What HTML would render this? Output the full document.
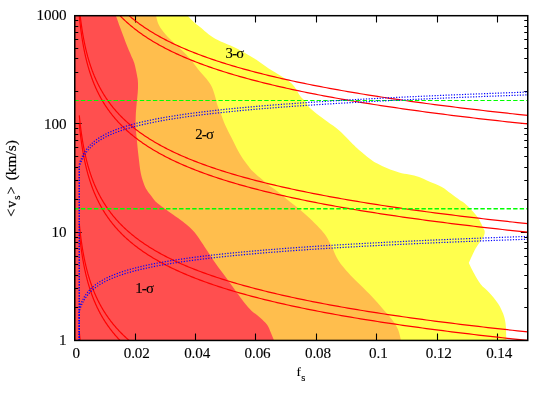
<!DOCTYPE html>
<html><head><meta charset="utf-8"><title>plot</title>
<style>
html,body{margin:0;padding:0;background:#fff;}
svg{display:block;}
.t{opacity:0.999;}
text{font-family:"Liberation Serif",serif;font-size:14px;fill:#000;letter-spacing:-0.1px;stroke:#000;stroke-width:0.12px;}
</style></head><body>
<svg width="550" height="393" viewBox="0 0 550 393">
<rect width="550" height="393" fill="#fff"/>
<defs><clipPath id="c"><rect x="74.75" y="15.7" width="453.0" height="324.75"/></clipPath></defs>
<g clip-path="url(#c)">
<path d="M74.75 15.70 L187.60 15.70 C188.78 16.87 192.47 20.68 194.70 22.70 C196.93 24.72 198.70 25.88 201.00 27.80 C203.30 29.72 205.70 32.17 208.50 34.20 C211.30 36.23 214.13 38.10 217.80 40.00 C221.47 41.90 226.25 43.60 230.50 45.60 C234.75 47.60 239.05 49.67 243.30 52.00 C247.55 54.33 251.77 56.85 256.00 59.60 C260.23 62.35 264.47 65.73 268.70 68.50 C272.93 71.27 278.02 74.08 281.40 76.20 C284.78 78.32 286.88 79.52 289.00 81.20 C291.12 82.88 292.18 83.75 294.10 86.30 C296.02 88.85 298.58 93.97 300.50 96.50 C302.42 99.03 304.12 99.65 305.60 101.50 C307.08 103.35 307.50 105.52 309.40 107.60 C311.30 109.68 314.03 111.67 317.00 114.00 C319.97 116.33 323.40 118.77 327.20 121.60 C331.00 124.43 335.52 127.23 339.80 131.00 C344.08 134.77 349.53 140.92 352.90 144.20 C356.27 147.48 357.30 148.37 360.00 150.70 C362.70 153.03 366.22 156.05 369.10 158.20 C371.98 160.35 374.27 161.93 377.30 163.60 C380.33 165.27 383.67 166.73 387.30 168.20 C390.93 169.67 395.47 171.35 399.10 172.40 C402.73 173.45 405.77 173.75 409.10 174.50 C412.43 175.25 415.77 175.73 419.10 176.90 C422.43 178.07 425.32 179.83 429.10 181.50 C432.88 183.17 438.17 184.88 441.80 186.90 C445.43 188.92 447.93 191.42 450.90 193.60 C453.87 195.78 457.32 198.40 459.60 200.00 C461.88 201.60 462.62 201.53 464.60 203.20 C466.58 204.87 469.23 207.53 471.50 210.00 C473.77 212.47 476.02 214.55 478.20 218.00 C480.38 221.45 484.60 230.70 484.60 230.70 C484.60 230.70 485.10 233.53 483.60 236.50 C482.10 239.47 478.07 244.08 475.60 248.50 C473.13 252.92 468.80 263.00 468.80 263.00 C468.80 263.00 472.42 270.47 474.40 274.00 C476.38 277.53 478.25 281.12 480.70 284.20 C483.15 287.28 486.22 289.30 489.10 292.50 C491.98 295.70 495.67 299.88 498.00 303.40 C500.33 306.92 501.83 310.20 503.10 313.60 C504.37 317.00 505.05 319.33 505.60 323.80 C506.15 328.27 506.27 337.68 506.40 340.45 L74.75 340.45 Z" fill="#ffff4d"/>
<path d="M74.75 15.70 L156.00 15.70 C156.50 17.30 157.43 22.22 159.00 25.30 C160.57 28.38 162.42 30.82 165.40 34.20 C168.38 37.58 172.87 41.58 176.90 45.60 C180.93 49.62 186.00 54.28 189.60 58.30 C193.20 62.32 195.70 66.30 198.50 69.70 C201.30 73.10 204.23 75.93 206.40 78.70 C208.57 81.47 210.07 83.42 211.50 86.30 C212.93 89.18 214.05 92.97 215.00 96.00 C215.95 99.03 216.30 101.72 217.20 104.50 C218.10 107.28 219.03 109.22 220.40 112.70 C221.77 116.18 223.50 121.15 225.40 125.40 C227.30 129.65 229.67 133.95 231.80 138.20 C233.93 142.45 236.08 147.10 238.20 150.90 C240.32 154.70 242.27 157.78 244.50 161.00 C246.73 164.22 251.60 170.20 251.60 170.20 C251.60 170.20 256.95 175.10 259.80 177.60 C262.65 180.10 265.73 182.88 268.70 185.20 C271.67 187.52 274.42 189.03 277.60 191.50 C280.78 193.97 284.20 197.07 287.80 200.00 C291.40 202.93 295.60 206.10 299.20 209.10 C302.80 212.10 306.00 214.82 309.40 218.00 C312.80 221.18 316.80 225.15 319.60 228.20 C322.40 231.25 324.03 232.92 326.20 236.30 C328.37 239.68 330.85 244.95 332.60 248.50 C334.35 252.05 335.17 254.80 336.70 257.60 C338.23 260.40 339.47 262.33 341.80 265.30 C344.13 268.27 347.52 272.02 350.70 275.40 C353.88 278.78 357.30 281.98 360.90 285.60 C364.50 289.22 368.70 293.28 372.30 297.10 C375.90 300.92 379.32 304.90 382.50 308.50 C385.68 312.10 388.85 315.30 391.40 318.70 C393.95 322.10 396.18 325.27 397.80 328.90 C399.42 332.52 400.55 338.52 401.10 340.45 L74.75 340.45 Z" fill="#ffbe4d"/>
<path d="M74.75 15.70 L115.90 15.70 C116.65 17.78 118.50 23.08 120.40 28.20 C122.30 33.32 125.25 41.25 127.30 46.40 C129.35 51.55 131.45 56.00 132.70 59.10 C133.95 62.20 133.98 61.77 134.80 65.00 C135.62 68.23 137.07 74.67 137.60 78.50 C138.13 82.33 138.05 84.87 138.00 88.00 C137.95 91.13 137.57 94.23 137.30 97.30 C137.03 100.37 136.65 103.45 136.40 106.40 C136.15 109.35 135.92 111.83 135.80 115.00 C135.68 118.17 135.55 121.53 135.70 125.40 C135.85 129.27 136.23 133.10 136.70 138.20 C137.17 143.30 137.80 150.07 138.50 156.00 C139.20 161.93 139.90 168.88 140.90 173.80 C141.90 178.72 143.40 182.63 144.50 185.50 C145.60 188.37 146.43 189.33 147.50 191.00 C148.57 192.67 149.57 193.77 150.90 195.50 C152.23 197.23 153.38 199.37 155.50 201.40 C157.62 203.43 160.58 205.43 163.60 207.70 C166.62 209.97 170.42 212.72 173.60 215.00 C176.78 217.28 180.12 219.43 182.70 221.40 C185.28 223.37 187.13 224.98 189.10 226.80 C191.07 228.62 192.83 230.33 194.50 232.30 C196.17 234.27 197.43 236.18 199.10 238.60 C200.77 241.02 202.68 244.07 204.50 246.80 C206.32 249.53 208.05 252.10 210.00 255.00 C211.95 257.90 213.28 260.12 216.20 264.20 C219.12 268.28 223.82 274.43 227.50 279.50 C231.18 284.57 235.42 290.63 238.30 294.60 C241.18 298.57 242.57 300.58 244.80 303.30 C247.03 306.02 249.18 308.55 251.70 310.90 C254.22 313.25 257.30 315.07 259.90 317.40 C262.50 319.73 265.48 322.38 267.30 324.90 C269.12 327.42 269.68 329.91 270.80 332.50 C271.92 335.09 273.47 339.12 274.00 340.45 L74.75 340.45 Z" fill="#ff4f4f"/>
</g>
<g fill="none" stroke="#000" stroke-width="1.1"><path d="M135.50 340.45 v-6.9 M135.50 15.70 v6.9"/><path d="M195.50 340.45 v-6.9 M195.50 15.70 v6.9"/><path d="M255.50 340.45 v-6.9 M255.50 15.70 v6.9"/><path d="M316.50 340.45 v-6.9 M316.50 15.70 v6.9"/><path d="M376.50 340.45 v-6.9 M376.50 15.70 v6.9"/><path d="M437.50 340.45 v-6.9 M437.50 15.70 v6.9"/><path d="M497.50 340.45 v-6.9 M497.50 15.70 v6.9"/><path d="M74.75 307.50 h3.50 M527.75 307.50 h-3.50"/><path d="M74.75 288.50 h3.50 M527.75 288.50 h-3.50"/><path d="M74.75 275.50 h3.50 M527.75 275.50 h-3.50"/><path d="M74.75 264.50 h3.50 M527.75 264.50 h-3.50"/><path d="M74.75 256.50 h3.50 M527.75 256.50 h-3.50"/><path d="M74.75 248.50 h3.50 M527.75 248.50 h-3.50"/><path d="M74.75 242.50 h3.50 M527.75 242.50 h-3.50"/><path d="M74.75 237.50 h3.50 M527.75 237.50 h-3.50"/><path d="M74.75 232.50 h6.90 M527.75 232.50 h-6.90"/><path d="M74.75 199.50 h3.50 M527.75 199.50 h-3.50"/><path d="M74.75 180.50 h3.50 M527.75 180.50 h-3.50"/><path d="M74.75 167.50 h3.50 M527.75 167.50 h-3.50"/><path d="M74.75 156.50 h3.50 M527.75 156.50 h-3.50"/><path d="M74.75 147.50 h3.50 M527.75 147.50 h-3.50"/><path d="M74.75 140.50 h3.50 M527.75 140.50 h-3.50"/><path d="M74.75 134.50 h3.50 M527.75 134.50 h-3.50"/><path d="M74.75 128.50 h3.50 M527.75 128.50 h-3.50"/><path d="M74.75 123.50 h6.90 M527.75 123.50 h-6.90"/><path d="M74.75 91.50 h3.50 M527.75 91.50 h-3.50"/><path d="M74.75 72.50 h3.50 M527.75 72.50 h-3.50"/><path d="M74.75 58.50 h3.50 M527.75 58.50 h-3.50"/><path d="M74.75 48.50 h3.50 M527.75 48.50 h-3.50"/><path d="M74.75 39.50 h3.50 M527.75 39.50 h-3.50"/><path d="M74.75 32.50 h3.50 M527.75 32.50 h-3.50"/><path d="M74.75 26.50 h3.50 M527.75 26.50 h-3.50"/><path d="M74.75 20.50 h3.50 M527.75 20.50 h-3.50"/></g>
<g clip-path="url(#c)">
<g fill="none" stroke="#ff0000" stroke-width="1.2"><path d="M79.28 340.45 L79.33 340.99 L79.39 341.53 L79.44 342.07 L79.49 342.62 L79.55 343.16 L79.60 343.70 L79.66 344.24 L79.72 344.78 L79.77 345.32 L79.83 345.86 L79.89 346.40 L79.95 346.94 L80.01 347.49 L80.07 348.03 L80.13 348.57 L80.20 349.11 L80.26 349.65 L80.32 350.19 L80.39 350.73 L80.45 351.27 L80.52 351.82 L80.59 352.36 L80.65 352.90 L80.72 353.44 L80.79 353.98 L80.86 354.52 L80.93 355.06 L81.00 355.60 L81.08 356.15 L81.15 356.69 L81.22 357.23 L81.30 357.77 L81.37 358.31 L81.45 358.85 L81.53 359.39 L81.61 359.94 L81.69 360.48 L81.77 361.02 L81.85 361.56 L81.93 362.10 L82.01 362.64 L82.10 363.18 L82.18 363.72 L82.27 364.26 L82.35 364.81 L82.44 365.35 L82.53 365.89 L82.62 366.43 L82.71 366.97 L82.81 367.51 L82.90 368.05 L82.99 368.59 L83.09 369.14 L83.19 369.68 L83.28 370.22 L83.38 370.76 L83.48 371.30 L83.58 371.84 L83.69 372.38 L83.79 372.93 L83.89 373.47 L84.00 374.01 L84.11 374.55 L84.21 375.09 L84.32 375.63 L84.43 376.17 L84.55 376.71 L84.66 377.25 L84.78 377.80 L84.89 378.34 L85.01 378.88 L85.13 379.42 L85.25 379.96 L85.37 380.50 L85.49 381.04 L85.62 381.58 L85.74 382.13 L85.87 382.67 L86.00 383.21 L86.13 383.75 L86.26 384.29 L86.39 384.83 L86.53 385.37 L86.67 385.91 L86.80 386.46 L86.94 387.00 L87.08 387.54 L87.23 388.08 L87.37 388.62 L87.52 389.16 L87.67 389.70 L87.81 390.25 L87.97 390.79 L88.12 391.33 L88.27 391.87 L88.43 392.41 L88.59 392.95 L88.75 393.49 L88.91 394.03 L89.08 394.57 L89.24 395.12 L89.41 395.66 L89.58 396.20 L89.75 396.74 L89.92 397.28 L90.10 397.82 L90.28 398.36 L90.46 398.90 L90.64 399.45 L90.82 399.99 L91.01 400.53 L91.20 401.07 L91.39 401.61 L91.58 402.15 L91.78 402.69 L91.97 403.23 L92.17 403.78 L92.37 404.32 L92.58 404.86 L92.78 405.40 L92.99 405.94 L93.20 406.48 L93.42 407.02 L93.63 407.56 L93.85 408.11 L94.07 408.65 L94.30 409.19 L94.52 409.73 L94.75 410.27 L94.98 410.81 L95.22 411.35 L95.46 411.89 L95.70 412.44 L95.94 412.98 L96.18 413.52 L96.43 414.06 L96.68 414.60 L96.94 415.14 L97.19 415.68 L97.45 416.22 L97.72 416.77 L97.98 417.31 L98.25 417.85 L98.52 418.39 L98.80 418.93 L99.08 419.47 L99.36 420.01 L99.64 420.56 L99.93 421.10 L100.22 421.64 L100.52 422.18 L100.82 422.72 L101.12 423.26 L101.42 423.80 L101.73 424.34 L102.05 424.88 L102.36 425.43 L102.68 425.97 L103.01 426.51 L103.33 427.05 L103.66 427.59 L104.00 428.13 L104.34 428.67 L104.68 429.21 L105.03 429.76 L105.38 430.30 L105.73 430.84 L106.09 431.38 L106.45 431.92 L106.82 432.46 L107.19 433.00 L107.57 433.55 L107.95 434.09 L108.33 434.63 L108.72 435.17 L109.11 435.71 L109.51 436.25 L109.91 436.79 L110.32 437.33 L110.73 437.88 L111.15 438.42 L111.57 438.96 L112.00 439.50 L112.43 440.04 L112.87 440.58 L113.31 441.12 L113.75 441.66 L114.20 442.20 L114.66 442.75 L115.12 443.29 L115.59 443.83 L116.06 444.37 L116.54 444.91 L117.03 445.45 L117.52 445.99 L118.01 446.53 L118.51 447.08 L119.02 447.62 L119.53 448.16 L120.05 448.70 L120.57 449.24 L121.11 449.78 L121.64 450.32 L122.18 450.87 L122.73 451.41 L123.29 451.95 L123.85 452.49 L124.42 453.03 L125.00 453.57 L125.58 454.11 L126.17 454.65 L126.76 455.19 L127.36 455.74 L127.97 456.28 L128.59 456.82 L129.21 457.36 L129.84 457.90 L130.48 458.44 L131.13 458.98 L131.78 459.52 L132.44 460.07 L133.11 460.61 L133.78 461.15 L134.47 461.69 L135.16 462.23 L135.86 462.77 L136.57 463.31 L137.28 463.85 L138.01 464.40 L138.74 464.94 L139.48 465.48 L140.23 466.02 L140.99 466.56 L141.75 467.10 L142.53 467.64 L143.31 468.19 L144.11 468.73 L144.91 469.27 L145.72 469.81 L146.55 470.35 L147.38 470.89 L148.22 471.43 L149.07 471.97 L149.93 472.51 L150.80 473.06 L151.68 473.60 L152.57 474.14 L153.47 474.68 L154.38 475.22 L155.31 475.76 L156.24 476.30 L157.18 476.85 L158.14 477.39 L159.10 477.93 L160.08 478.47 L161.07 479.01 L162.07 479.55 L163.08 480.09 L164.10 480.63 L165.14 481.17 L166.18 481.72 L167.24 482.26 L168.31 482.80 L169.40 483.34 L170.49 483.88 L171.60 484.42 L172.72 484.96 L173.86 485.50 L175.00 486.05 L176.16 486.59 L177.34 487.13 L178.53 487.67 L179.73 488.21 L180.94 488.75 L182.17 489.29 L183.42 489.83 L184.68 490.38 L185.95 490.92 L187.24 491.46 L188.54 492.00 L189.86 492.54 L191.19 493.08 L192.54 493.62 L193.90 494.16 L195.28 494.71 L196.68 495.25 L198.09 495.79 L199.52 496.33 L200.96 496.87 L202.42 497.41 L203.90 497.95 L205.40 498.50 L206.91 499.04 L208.44 499.58 L209.99 500.12 L211.55 500.66 L213.14 501.20 L214.74 501.74 L216.36 502.28 L218.00 502.82 L219.66 503.37 L221.34 503.91 L223.04 504.45 L224.75 504.99 L226.49 505.53 L228.25 506.07 L230.02 506.61 L231.82 507.15 L233.64 507.70 L235.48 508.24 L237.34 508.78 L239.22 509.32 L241.13 509.86 L243.06 510.40 L245.00 510.94 L246.98 511.49 L248.97 512.03 L250.99 512.57 L253.03 513.11 L255.09 513.65 L257.18 514.19 L259.29 514.73 L261.43 515.27 L263.59 515.82 L265.78 516.36 L267.99 516.90 L270.23 517.44 L272.49 517.98 L274.78 518.52 L277.10 519.06 L279.44 519.60 L281.81 520.14 L284.21 520.69 L286.63 521.23 L289.09 521.77 L291.57 522.31 L294.08 522.85 L296.62 523.39 L299.19 523.93 L301.79 524.48 L304.42 525.02 L307.08 525.56 L309.77 526.10 L312.49 526.64 L315.24 527.18 L318.03 527.72 L320.84 528.26 L323.69 528.80 L326.57 529.35 L329.49 529.89 L332.44 530.43 L335.42 530.97 L338.44 531.51 L341.50 532.05 L344.58 532.59 L347.71 533.13 L350.87 533.68 L354.07 534.22 L357.30 534.76 L360.57 535.30 L363.88 535.84 L367.23 536.38 L370.62 536.92 L374.04 537.47 L377.51 538.01 L381.02 538.55 L384.56 539.09 L388.15 539.63 L391.78 540.17 L395.45 540.71 L399.16 541.25 L402.92 541.79 L406.72 542.34 L410.56 542.88 L414.45 543.42 L418.39 543.96 L422.36 544.50 L426.39 545.04 L430.46 545.58 L434.58 546.12 L438.75 546.67 L442.96 547.21 L447.23 547.75 L451.54 548.29 L455.90 548.83 L460.32 549.37 L464.78 549.91 L469.30 550.45 L473.87 551.00 L478.49 551.54 L483.16 552.08 L487.89 552.62 L492.67 553.16 L497.51 553.70 L502.41 554.24 L507.36 554.78 L512.37 555.33 L517.44 555.87 L522.56 556.41 L527.75 556.95"/><path d="M79.28 331.88 L79.33 332.42 L79.39 332.96 L79.44 333.50 L79.49 334.04 L79.55 334.58 L79.60 335.13 L79.66 335.67 L79.72 336.21 L79.77 336.75 L79.83 337.29 L79.89 337.83 L79.95 338.37 L80.01 338.91 L80.07 339.46 L80.13 340.00 L80.20 340.54 L80.26 341.08 L80.32 341.62 L80.39 342.16 L80.45 342.70 L80.52 343.24 L80.59 343.79 L80.65 344.33 L80.72 344.87 L80.79 345.41 L80.86 345.95 L80.93 346.49 L81.00 347.03 L81.08 347.57 L81.15 348.12 L81.22 348.66 L81.30 349.20 L81.37 349.74 L81.45 350.28 L81.53 350.82 L81.61 351.36 L81.69 351.90 L81.77 352.45 L81.85 352.99 L81.93 353.53 L82.01 354.07 L82.10 354.61 L82.18 355.15 L82.27 355.69 L82.35 356.23 L82.44 356.78 L82.53 357.32 L82.62 357.86 L82.71 358.40 L82.81 358.94 L82.90 359.48 L82.99 360.02 L83.09 360.56 L83.19 361.11 L83.28 361.65 L83.38 362.19 L83.48 362.73 L83.58 363.27 L83.69 363.81 L83.79 364.35 L83.89 364.89 L84.00 365.44 L84.11 365.98 L84.21 366.52 L84.32 367.06 L84.43 367.60 L84.55 368.14 L84.66 368.68 L84.78 369.22 L84.89 369.77 L85.01 370.31 L85.13 370.85 L85.25 371.39 L85.37 371.93 L85.49 372.47 L85.62 373.01 L85.74 373.55 L85.87 374.10 L86.00 374.64 L86.13 375.18 L86.26 375.72 L86.39 376.26 L86.53 376.80 L86.67 377.34 L86.80 377.88 L86.94 378.43 L87.08 378.97 L87.23 379.51 L87.37 380.05 L87.52 380.59 L87.67 381.13 L87.81 381.67 L87.97 382.21 L88.12 382.76 L88.27 383.30 L88.43 383.84 L88.59 384.38 L88.75 384.92 L88.91 385.46 L89.08 386.00 L89.24 386.54 L89.41 387.09 L89.58 387.63 L89.75 388.17 L89.92 388.71 L90.10 389.25 L90.28 389.79 L90.46 390.33 L90.64 390.87 L90.82 391.42 L91.01 391.96 L91.20 392.50 L91.39 393.04 L91.58 393.58 L91.78 394.12 L91.97 394.66 L92.17 395.20 L92.37 395.75 L92.58 396.29 L92.78 396.83 L92.99 397.37 L93.20 397.91 L93.42 398.45 L93.63 398.99 L93.85 399.53 L94.07 400.08 L94.30 400.62 L94.52 401.16 L94.75 401.70 L94.98 402.24 L95.22 402.78 L95.46 403.32 L95.70 403.86 L95.94 404.41 L96.18 404.95 L96.43 405.49 L96.68 406.03 L96.94 406.57 L97.19 407.11 L97.45 407.65 L97.72 408.19 L97.98 408.74 L98.25 409.28 L98.52 409.82 L98.80 410.36 L99.08 410.90 L99.36 411.44 L99.64 411.98 L99.93 412.52 L100.22 413.07 L100.52 413.61 L100.82 414.15 L101.12 414.69 L101.42 415.23 L101.73 415.77 L102.05 416.31 L102.36 416.85 L102.68 417.40 L103.01 417.94 L103.33 418.48 L103.66 419.02 L104.00 419.56 L104.34 420.10 L104.68 420.64 L105.03 421.18 L105.38 421.73 L105.73 422.27 L106.09 422.81 L106.45 423.35 L106.82 423.89 L107.19 424.43 L107.57 424.97 L107.95 425.51 L108.33 426.06 L108.72 426.60 L109.11 427.14 L109.51 427.68 L109.91 428.22 L110.32 428.76 L110.73 429.30 L111.15 429.84 L111.57 430.39 L112.00 430.93 L112.43 431.47 L112.87 432.01 L113.31 432.55 L113.75 433.09 L114.20 433.63 L114.66 434.17 L115.12 434.72 L115.59 435.26 L116.06 435.80 L116.54 436.34 L117.03 436.88 L117.52 437.42 L118.01 437.96 L118.51 438.50 L119.02 439.05 L119.53 439.59 L120.05 440.13 L120.57 440.67 L121.11 441.21 L121.64 441.75 L122.18 442.29 L122.73 442.83 L123.29 443.38 L123.85 443.92 L124.42 444.46 L125.00 445.00 L125.58 445.54 L126.17 446.08 L126.76 446.62 L127.36 447.16 L127.97 447.71 L128.59 448.25 L129.21 448.79 L129.84 449.33 L130.48 449.87 L131.13 450.41 L131.78 450.95 L132.44 451.49 L133.11 452.04 L133.78 452.58 L134.47 453.12 L135.16 453.66 L135.86 454.20 L136.57 454.74 L137.28 455.28 L138.01 455.82 L138.74 456.37 L139.48 456.91 L140.23 457.45 L140.99 457.99 L141.75 458.53 L142.53 459.07 L143.31 459.61 L144.11 460.15 L144.91 460.70 L145.72 461.24 L146.55 461.78 L147.38 462.32 L148.22 462.86 L149.07 463.40 L149.93 463.94 L150.80 464.48 L151.68 465.03 L152.57 465.57 L153.47 466.11 L154.38 466.65 L155.31 467.19 L156.24 467.73 L157.18 468.27 L158.14 468.81 L159.10 469.36 L160.08 469.90 L161.07 470.44 L162.07 470.98 L163.08 471.52 L164.10 472.06 L165.14 472.60 L166.18 473.14 L167.24 473.69 L168.31 474.23 L169.40 474.77 L170.49 475.31 L171.60 475.85 L172.72 476.39 L173.86 476.93 L175.00 477.47 L176.16 478.02 L177.34 478.56 L178.53 479.10 L179.73 479.64 L180.94 480.18 L182.17 480.72 L183.42 481.26 L184.68 481.80 L185.95 482.35 L187.24 482.89 L188.54 483.43 L189.86 483.97 L191.19 484.51 L192.54 485.05 L193.90 485.59 L195.28 486.13 L196.68 486.68 L198.09 487.22 L199.52 487.76 L200.96 488.30 L202.42 488.84 L203.90 489.38 L205.40 489.92 L206.91 490.46 L208.44 491.01 L209.99 491.55 L211.55 492.09 L213.14 492.63 L214.74 493.17 L216.36 493.71 L218.00 494.25 L219.66 494.79 L221.34 495.34 L223.04 495.88 L224.75 496.42 L226.49 496.96 L228.25 497.50 L230.02 498.04 L231.82 498.58 L233.64 499.12 L235.48 499.67 L237.34 500.21 L239.22 500.75 L241.13 501.29 L243.06 501.83 L245.00 502.37 L246.98 502.91 L248.97 503.45 L250.99 504.00 L253.03 504.54 L255.09 505.08 L257.18 505.62 L259.29 506.16 L261.43 506.70 L263.59 507.24 L265.78 507.78 L267.99 508.33 L270.23 508.87 L272.49 509.41 L274.78 509.95 L277.10 510.49 L279.44 511.03 L281.81 511.57 L284.21 512.11 L286.63 512.66 L289.09 513.20 L291.57 513.74 L294.08 514.28 L296.62 514.82 L299.19 515.36 L301.79 515.90 L304.42 516.44 L307.08 516.99 L309.77 517.53 L312.49 518.07 L315.24 518.61 L318.03 519.15 L320.84 519.69 L323.69 520.23 L326.57 520.77 L329.49 521.32 L332.44 521.86 L335.42 522.40 L338.44 522.94 L341.50 523.48 L344.58 524.02 L347.71 524.56 L350.87 525.10 L354.07 525.65 L357.30 526.19 L360.57 526.73 L363.88 527.27 L367.23 527.81 L370.62 528.35 L374.04 528.89 L377.51 529.43 L381.02 529.98 L384.56 530.52 L388.15 531.06 L391.78 531.60 L395.45 532.14 L399.16 532.68 L402.92 533.22 L406.72 533.76 L410.56 534.31 L414.45 534.85 L418.39 535.39 L422.36 535.93 L426.39 536.47 L430.46 537.01 L434.58 537.55 L438.75 538.09 L442.96 538.64 L447.23 539.18 L451.54 539.72 L455.90 540.26 L460.32 540.80 L464.78 541.34 L469.30 541.88 L473.87 542.42 L478.49 542.97 L483.16 543.51 L487.89 544.05 L492.67 544.59 L497.51 545.13 L502.41 545.67 L507.36 546.21 L512.37 546.75 L517.44 547.30 L522.56 547.84 L527.75 548.38"/><path d="M79.28 232.20 L79.33 232.74 L79.39 233.28 L79.44 233.82 L79.49 234.37 L79.55 234.91 L79.60 235.45 L79.66 235.99 L79.72 236.53 L79.77 237.07 L79.83 237.61 L79.89 238.15 L79.95 238.69 L80.01 239.24 L80.07 239.78 L80.13 240.32 L80.20 240.86 L80.26 241.40 L80.32 241.94 L80.39 242.48 L80.45 243.02 L80.52 243.57 L80.59 244.11 L80.65 244.65 L80.72 245.19 L80.79 245.73 L80.86 246.27 L80.93 246.81 L81.00 247.35 L81.08 247.90 L81.15 248.44 L81.22 248.98 L81.30 249.52 L81.37 250.06 L81.45 250.60 L81.53 251.14 L81.61 251.69 L81.69 252.23 L81.77 252.77 L81.85 253.31 L81.93 253.85 L82.01 254.39 L82.10 254.93 L82.18 255.47 L82.27 256.01 L82.35 256.56 L82.44 257.10 L82.53 257.64 L82.62 258.18 L82.71 258.72 L82.81 259.26 L82.90 259.80 L82.99 260.34 L83.09 260.89 L83.19 261.43 L83.28 261.97 L83.38 262.51 L83.48 263.05 L83.58 263.59 L83.69 264.13 L83.79 264.68 L83.89 265.22 L84.00 265.76 L84.11 266.30 L84.21 266.84 L84.32 267.38 L84.43 267.92 L84.55 268.46 L84.66 269.00 L84.78 269.55 L84.89 270.09 L85.01 270.63 L85.13 271.17 L85.25 271.71 L85.37 272.25 L85.49 272.79 L85.62 273.33 L85.74 273.88 L85.87 274.42 L86.00 274.96 L86.13 275.50 L86.26 276.04 L86.39 276.58 L86.53 277.12 L86.67 277.66 L86.80 278.21 L86.94 278.75 L87.08 279.29 L87.23 279.83 L87.37 280.37 L87.52 280.91 L87.67 281.45 L87.81 282.00 L87.97 282.54 L88.12 283.08 L88.27 283.62 L88.43 284.16 L88.59 284.70 L88.75 285.24 L88.91 285.78 L89.08 286.32 L89.24 286.87 L89.41 287.41 L89.58 287.95 L89.75 288.49 L89.92 289.03 L90.10 289.57 L90.28 290.11 L90.46 290.65 L90.64 291.20 L90.82 291.74 L91.01 292.28 L91.20 292.82 L91.39 293.36 L91.58 293.90 L91.78 294.44 L91.97 294.99 L92.17 295.53 L92.37 296.07 L92.58 296.61 L92.78 297.15 L92.99 297.69 L93.20 298.23 L93.42 298.77 L93.63 299.31 L93.85 299.86 L94.07 300.40 L94.30 300.94 L94.52 301.48 L94.75 302.02 L94.98 302.56 L95.22 303.10 L95.46 303.64 L95.70 304.19 L95.94 304.73 L96.18 305.27 L96.43 305.81 L96.68 306.35 L96.94 306.89 L97.19 307.43 L97.45 307.97 L97.72 308.52 L97.98 309.06 L98.25 309.60 L98.52 310.14 L98.80 310.68 L99.08 311.22 L99.36 311.76 L99.64 312.31 L99.93 312.85 L100.22 313.39 L100.52 313.93 L100.82 314.47 L101.12 315.01 L101.42 315.55 L101.73 316.09 L102.05 316.63 L102.36 317.18 L102.68 317.72 L103.01 318.26 L103.33 318.80 L103.66 319.34 L104.00 319.88 L104.34 320.42 L104.68 320.96 L105.03 321.51 L105.38 322.05 L105.73 322.59 L106.09 323.13 L106.45 323.67 L106.82 324.21 L107.19 324.75 L107.57 325.30 L107.95 325.84 L108.33 326.38 L108.72 326.92 L109.11 327.46 L109.51 328.00 L109.91 328.54 L110.32 329.08 L110.73 329.62 L111.15 330.17 L111.57 330.71 L112.00 331.25 L112.43 331.79 L112.87 332.33 L113.31 332.87 L113.75 333.41 L114.20 333.95 L114.66 334.50 L115.12 335.04 L115.59 335.58 L116.06 336.12 L116.54 336.66 L117.03 337.20 L117.52 337.74 L118.01 338.28 L118.51 338.83 L119.02 339.37 L119.53 339.91 L120.05 340.45 L120.57 340.99 L121.11 341.53 L121.64 342.07 L122.18 342.62 L122.73 343.16 L123.29 343.70 L123.85 344.24 L124.42 344.78 L125.00 345.32 L125.58 345.86 L126.17 346.40 L126.76 346.94 L127.36 347.49 L127.97 348.03 L128.59 348.57 L129.21 349.11 L129.84 349.65 L130.48 350.19 L131.13 350.73 L131.78 351.27 L132.44 351.82 L133.11 352.36 L133.78 352.90 L134.47 353.44 L135.16 353.98 L135.86 354.52 L136.57 355.06 L137.28 355.60 L138.01 356.15 L138.74 356.69 L139.48 357.23 L140.23 357.77 L140.99 358.31 L141.75 358.85 L142.53 359.39 L143.31 359.94 L144.11 360.48 L144.91 361.02 L145.72 361.56 L146.55 362.10 L147.38 362.64 L148.22 363.18 L149.07 363.72 L149.93 364.26 L150.80 364.81 L151.68 365.35 L152.57 365.89 L153.47 366.43 L154.38 366.97 L155.31 367.51 L156.24 368.05 L157.18 368.59 L158.14 369.14 L159.10 369.68 L160.08 370.22 L161.07 370.76 L162.07 371.30 L163.08 371.84 L164.10 372.38 L165.14 372.93 L166.18 373.47 L167.24 374.01 L168.31 374.55 L169.40 375.09 L170.49 375.63 L171.60 376.17 L172.72 376.71 L173.86 377.25 L175.00 377.80 L176.16 378.34 L177.34 378.88 L178.53 379.42 L179.73 379.96 L180.94 380.50 L182.17 381.04 L183.42 381.58 L184.68 382.13 L185.95 382.67 L187.24 383.21 L188.54 383.75 L189.86 384.29 L191.19 384.83 L192.54 385.37 L193.90 385.91 L195.28 386.46 L196.68 387.00 L198.09 387.54 L199.52 388.08 L200.96 388.62 L202.42 389.16 L203.90 389.70 L205.40 390.25 L206.91 390.79 L208.44 391.33 L209.99 391.87 L211.55 392.41 L213.14 392.95 L214.74 393.49 L216.36 394.03 L218.00 394.57 L219.66 395.12 L221.34 395.66 L223.04 396.20 L224.75 396.74 L226.49 397.28 L228.25 397.82 L230.02 398.36 L231.82 398.90 L233.64 399.45 L235.48 399.99 L237.34 400.53 L239.22 401.07 L241.13 401.61 L243.06 402.15 L245.00 402.69 L246.98 403.24 L248.97 403.78 L250.99 404.32 L253.03 404.86 L255.09 405.40 L257.18 405.94 L259.29 406.48 L261.43 407.02 L263.59 407.56 L265.78 408.11 L267.99 408.65 L270.23 409.19 L272.49 409.73 L274.78 410.27 L277.10 410.81 L279.44 411.35 L281.81 411.89 L284.21 412.44 L286.63 412.98 L289.09 413.52 L291.57 414.06 L294.08 414.60 L296.62 415.14 L299.19 415.68 L301.79 416.22 L304.42 416.77 L307.08 417.31 L309.77 417.85 L312.49 418.39 L315.24 418.93 L318.03 419.47 L320.84 420.01 L323.69 420.56 L326.57 421.10 L329.49 421.64 L332.44 422.18 L335.42 422.72 L338.44 423.26 L341.50 423.80 L344.58 424.34 L347.71 424.88 L350.87 425.43 L354.07 425.97 L357.30 426.51 L360.57 427.05 L363.88 427.59 L367.23 428.13 L370.62 428.67 L374.04 429.21 L377.51 429.76 L381.02 430.30 L384.56 430.84 L388.15 431.38 L391.78 431.92 L395.45 432.46 L399.16 433.00 L402.92 433.55 L406.72 434.09 L410.56 434.63 L414.45 435.17 L418.39 435.71 L422.36 436.25 L426.39 436.79 L430.46 437.33 L434.58 437.88 L438.75 438.42 L442.96 438.96 L447.23 439.50 L451.54 440.04 L455.90 440.58 L460.32 441.12 L464.78 441.66 L469.30 442.20 L473.87 442.75 L478.49 443.29 L483.16 443.83 L487.89 444.37 L492.67 444.91 L497.51 445.45 L502.41 445.99 L507.36 446.53 L512.37 447.08 L517.44 447.62 L522.56 448.16 L527.75 448.70"/><path d="M79.28 223.63 L79.33 224.17 L79.39 224.71 L79.44 225.25 L79.49 225.79 L79.55 226.33 L79.60 226.88 L79.66 227.42 L79.72 227.96 L79.77 228.50 L79.83 229.04 L79.89 229.58 L79.95 230.12 L80.01 230.66 L80.07 231.21 L80.13 231.75 L80.20 232.29 L80.26 232.83 L80.32 233.37 L80.39 233.91 L80.45 234.45 L80.52 234.99 L80.59 235.54 L80.65 236.08 L80.72 236.62 L80.79 237.16 L80.86 237.70 L80.93 238.24 L81.00 238.78 L81.08 239.32 L81.15 239.87 L81.22 240.41 L81.30 240.95 L81.37 241.49 L81.45 242.03 L81.53 242.57 L81.61 243.11 L81.69 243.65 L81.77 244.20 L81.85 244.74 L81.93 245.28 L82.01 245.82 L82.10 246.36 L82.18 246.90 L82.27 247.44 L82.35 247.98 L82.44 248.53 L82.53 249.07 L82.62 249.61 L82.71 250.15 L82.81 250.69 L82.90 251.23 L82.99 251.77 L83.09 252.31 L83.19 252.86 L83.28 253.40 L83.38 253.94 L83.48 254.48 L83.58 255.02 L83.69 255.56 L83.79 256.10 L83.89 256.64 L84.00 257.19 L84.11 257.73 L84.21 258.27 L84.32 258.81 L84.43 259.35 L84.55 259.89 L84.66 260.43 L84.78 260.97 L84.89 261.52 L85.01 262.06 L85.13 262.60 L85.25 263.14 L85.37 263.68 L85.49 264.22 L85.62 264.76 L85.74 265.30 L85.87 265.85 L86.00 266.39 L86.13 266.93 L86.26 267.47 L86.39 268.01 L86.53 268.55 L86.67 269.09 L86.80 269.63 L86.94 270.18 L87.08 270.72 L87.23 271.26 L87.37 271.80 L87.52 272.34 L87.67 272.88 L87.81 273.42 L87.97 273.96 L88.12 274.51 L88.27 275.05 L88.43 275.59 L88.59 276.13 L88.75 276.67 L88.91 277.21 L89.08 277.75 L89.24 278.29 L89.41 278.84 L89.58 279.38 L89.75 279.92 L89.92 280.46 L90.10 281.00 L90.28 281.54 L90.46 282.08 L90.64 282.62 L90.82 283.17 L91.01 283.71 L91.20 284.25 L91.39 284.79 L91.58 285.33 L91.78 285.87 L91.97 286.41 L92.17 286.95 L92.37 287.50 L92.58 288.04 L92.78 288.58 L92.99 289.12 L93.20 289.66 L93.42 290.20 L93.63 290.74 L93.85 291.28 L94.07 291.83 L94.30 292.37 L94.52 292.91 L94.75 293.45 L94.98 293.99 L95.22 294.53 L95.46 295.07 L95.70 295.61 L95.94 296.16 L96.18 296.70 L96.43 297.24 L96.68 297.78 L96.94 298.32 L97.19 298.86 L97.45 299.40 L97.72 299.94 L97.98 300.49 L98.25 301.03 L98.52 301.57 L98.80 302.11 L99.08 302.65 L99.36 303.19 L99.64 303.73 L99.93 304.27 L100.22 304.82 L100.52 305.36 L100.82 305.90 L101.12 306.44 L101.42 306.98 L101.73 307.52 L102.05 308.06 L102.36 308.60 L102.68 309.15 L103.01 309.69 L103.33 310.23 L103.66 310.77 L104.00 311.31 L104.34 311.85 L104.68 312.39 L105.03 312.93 L105.38 313.48 L105.73 314.02 L106.09 314.56 L106.45 315.10 L106.82 315.64 L107.19 316.18 L107.57 316.72 L107.95 317.26 L108.33 317.81 L108.72 318.35 L109.11 318.89 L109.51 319.43 L109.91 319.97 L110.32 320.51 L110.73 321.05 L111.15 321.59 L111.57 322.14 L112.00 322.68 L112.43 323.22 L112.87 323.76 L113.31 324.30 L113.75 324.84 L114.20 325.38 L114.66 325.92 L115.12 326.47 L115.59 327.01 L116.06 327.55 L116.54 328.09 L117.03 328.63 L117.52 329.17 L118.01 329.71 L118.51 330.25 L119.02 330.80 L119.53 331.34 L120.05 331.88 L120.57 332.42 L121.11 332.96 L121.64 333.50 L122.18 334.04 L122.73 334.58 L123.29 335.13 L123.85 335.67 L124.42 336.21 L125.00 336.75 L125.58 337.29 L126.17 337.83 L126.76 338.37 L127.36 338.91 L127.97 339.46 L128.59 340.00 L129.21 340.54 L129.84 341.08 L130.48 341.62 L131.13 342.16 L131.78 342.70 L132.44 343.24 L133.11 343.79 L133.78 344.33 L134.47 344.87 L135.16 345.41 L135.86 345.95 L136.57 346.49 L137.28 347.03 L138.01 347.57 L138.74 348.12 L139.48 348.66 L140.23 349.20 L140.99 349.74 L141.75 350.28 L142.53 350.82 L143.31 351.36 L144.11 351.90 L144.91 352.45 L145.72 352.99 L146.55 353.53 L147.38 354.07 L148.22 354.61 L149.07 355.15 L149.93 355.69 L150.80 356.23 L151.68 356.78 L152.57 357.32 L153.47 357.86 L154.38 358.40 L155.31 358.94 L156.24 359.48 L157.18 360.02 L158.14 360.56 L159.10 361.11 L160.08 361.65 L161.07 362.19 L162.07 362.73 L163.08 363.27 L164.10 363.81 L165.14 364.35 L166.18 364.89 L167.24 365.44 L168.31 365.98 L169.40 366.52 L170.49 367.06 L171.60 367.60 L172.72 368.14 L173.86 368.68 L175.00 369.22 L176.16 369.77 L177.34 370.31 L178.53 370.85 L179.73 371.39 L180.94 371.93 L182.17 372.47 L183.42 373.01 L184.68 373.55 L185.95 374.10 L187.24 374.64 L188.54 375.18 L189.86 375.72 L191.19 376.26 L192.54 376.80 L193.90 377.34 L195.28 377.88 L196.68 378.43 L198.09 378.97 L199.52 379.51 L200.96 380.05 L202.42 380.59 L203.90 381.13 L205.40 381.67 L206.91 382.21 L208.44 382.76 L209.99 383.30 L211.55 383.84 L213.14 384.38 L214.74 384.92 L216.36 385.46 L218.00 386.00 L219.66 386.54 L221.34 387.09 L223.04 387.63 L224.75 388.17 L226.49 388.71 L228.25 389.25 L230.02 389.79 L231.82 390.33 L233.64 390.87 L235.48 391.42 L237.34 391.96 L239.22 392.50 L241.13 393.04 L243.06 393.58 L245.00 394.12 L246.98 394.66 L248.97 395.20 L250.99 395.75 L253.03 396.29 L255.09 396.83 L257.18 397.37 L259.29 397.91 L261.43 398.45 L263.59 398.99 L265.78 399.53 L267.99 400.08 L270.23 400.62 L272.49 401.16 L274.78 401.70 L277.10 402.24 L279.44 402.78 L281.81 403.32 L284.21 403.86 L286.63 404.41 L289.09 404.95 L291.57 405.49 L294.08 406.03 L296.62 406.57 L299.19 407.11 L301.79 407.65 L304.42 408.19 L307.08 408.74 L309.77 409.28 L312.49 409.82 L315.24 410.36 L318.03 410.90 L320.84 411.44 L323.69 411.98 L326.57 412.52 L329.49 413.07 L332.44 413.61 L335.42 414.15 L338.44 414.69 L341.50 415.23 L344.58 415.77 L347.71 416.31 L350.87 416.85 L354.07 417.40 L357.30 417.94 L360.57 418.48 L363.88 419.02 L367.23 419.56 L370.62 420.10 L374.04 420.64 L377.51 421.18 L381.02 421.73 L384.56 422.27 L388.15 422.81 L391.78 423.35 L395.45 423.89 L399.16 424.43 L402.92 424.97 L406.72 425.51 L410.56 426.06 L414.45 426.60 L418.39 427.14 L422.36 427.68 L426.39 428.22 L430.46 428.76 L434.58 429.30 L438.75 429.84 L442.96 430.39 L447.23 430.93 L451.54 431.47 L455.90 432.01 L460.32 432.55 L464.78 433.09 L469.30 433.63 L473.87 434.17 L478.49 434.72 L483.16 435.26 L487.89 435.80 L492.67 436.34 L497.51 436.88 L502.41 437.42 L507.36 437.96 L512.37 438.50 L517.44 439.05 L522.56 439.59 L527.75 440.13"/><path d="M79.28 123.95 L79.33 124.49 L79.39 125.03 L79.44 125.57 L79.49 126.11 L79.55 126.66 L79.60 127.20 L79.66 127.74 L79.72 128.28 L79.77 128.82 L79.83 129.36 L79.89 129.90 L79.95 130.44 L80.01 130.99 L80.07 131.53 L80.13 132.07 L80.20 132.61 L80.26 133.15 L80.32 133.69 L80.39 134.23 L80.45 134.78 L80.52 135.32 L80.59 135.86 L80.65 136.40 L80.72 136.94 L80.79 137.48 L80.86 138.02 L80.93 138.56 L81.00 139.10 L81.08 139.65 L81.15 140.19 L81.22 140.73 L81.30 141.27 L81.37 141.81 L81.45 142.35 L81.53 142.89 L81.61 143.43 L81.69 143.98 L81.77 144.52 L81.85 145.06 L81.93 145.60 L82.01 146.14 L82.10 146.68 L82.18 147.22 L82.27 147.76 L82.35 148.31 L82.44 148.85 L82.53 149.39 L82.62 149.93 L82.71 150.47 L82.81 151.01 L82.90 151.55 L82.99 152.09 L83.09 152.64 L83.19 153.18 L83.28 153.72 L83.38 154.26 L83.48 154.80 L83.58 155.34 L83.69 155.88 L83.79 156.42 L83.89 156.97 L84.00 157.51 L84.11 158.05 L84.21 158.59 L84.32 159.13 L84.43 159.67 L84.55 160.21 L84.66 160.75 L84.78 161.30 L84.89 161.84 L85.01 162.38 L85.13 162.92 L85.25 163.46 L85.37 164.00 L85.49 164.54 L85.62 165.09 L85.74 165.63 L85.87 166.17 L86.00 166.71 L86.13 167.25 L86.26 167.79 L86.39 168.33 L86.53 168.87 L86.67 169.41 L86.80 169.96 L86.94 170.50 L87.08 171.04 L87.23 171.58 L87.37 172.12 L87.52 172.66 L87.67 173.20 L87.81 173.74 L87.97 174.29 L88.12 174.83 L88.27 175.37 L88.43 175.91 L88.59 176.45 L88.75 176.99 L88.91 177.53 L89.08 178.07 L89.24 178.62 L89.41 179.16 L89.58 179.70 L89.75 180.24 L89.92 180.78 L90.10 181.32 L90.28 181.86 L90.46 182.41 L90.64 182.95 L90.82 183.49 L91.01 184.03 L91.20 184.57 L91.39 185.11 L91.58 185.65 L91.78 186.19 L91.97 186.73 L92.17 187.28 L92.37 187.82 L92.58 188.36 L92.78 188.90 L92.99 189.44 L93.20 189.98 L93.42 190.52 L93.63 191.06 L93.85 191.61 L94.07 192.15 L94.30 192.69 L94.52 193.23 L94.75 193.77 L94.98 194.31 L95.22 194.85 L95.46 195.40 L95.70 195.94 L95.94 196.48 L96.18 197.02 L96.43 197.56 L96.68 198.10 L96.94 198.64 L97.19 199.18 L97.45 199.72 L97.72 200.27 L97.98 200.81 L98.25 201.35 L98.52 201.89 L98.80 202.43 L99.08 202.97 L99.36 203.51 L99.64 204.05 L99.93 204.60 L100.22 205.14 L100.52 205.68 L100.82 206.22 L101.12 206.76 L101.42 207.30 L101.73 207.84 L102.05 208.38 L102.36 208.93 L102.68 209.47 L103.01 210.01 L103.33 210.55 L103.66 211.09 L104.00 211.63 L104.34 212.17 L104.68 212.71 L105.03 213.26 L105.38 213.80 L105.73 214.34 L106.09 214.88 L106.45 215.42 L106.82 215.96 L107.19 216.50 L107.57 217.05 L107.95 217.59 L108.33 218.13 L108.72 218.67 L109.11 219.21 L109.51 219.75 L109.91 220.29 L110.32 220.83 L110.73 221.38 L111.15 221.92 L111.57 222.46 L112.00 223.00 L112.43 223.54 L112.87 224.08 L113.31 224.62 L113.75 225.16 L114.20 225.70 L114.66 226.25 L115.12 226.79 L115.59 227.33 L116.06 227.87 L116.54 228.41 L117.03 228.95 L117.52 229.49 L118.01 230.03 L118.51 230.58 L119.02 231.12 L119.53 231.66 L120.05 232.20 L120.57 232.74 L121.11 233.28 L121.64 233.82 L122.18 234.37 L122.73 234.91 L123.29 235.45 L123.85 235.99 L124.42 236.53 L125.00 237.07 L125.58 237.61 L126.17 238.15 L126.76 238.69 L127.36 239.24 L127.97 239.78 L128.59 240.32 L129.21 240.86 L129.84 241.40 L130.48 241.94 L131.13 242.48 L131.78 243.02 L132.44 243.57 L133.11 244.11 L133.78 244.65 L134.47 245.19 L135.16 245.73 L135.86 246.27 L136.57 246.81 L137.28 247.35 L138.01 247.90 L138.74 248.44 L139.48 248.98 L140.23 249.52 L140.99 250.06 L141.75 250.60 L142.53 251.14 L143.31 251.69 L144.11 252.23 L144.91 252.77 L145.72 253.31 L146.55 253.85 L147.38 254.39 L148.22 254.93 L149.07 255.47 L149.93 256.01 L150.80 256.56 L151.68 257.10 L152.57 257.64 L153.47 258.18 L154.38 258.72 L155.31 259.26 L156.24 259.80 L157.18 260.34 L158.14 260.89 L159.10 261.43 L160.08 261.97 L161.07 262.51 L162.07 263.05 L163.08 263.59 L164.10 264.13 L165.14 264.68 L166.18 265.22 L167.24 265.76 L168.31 266.30 L169.40 266.84 L170.49 267.38 L171.60 267.92 L172.72 268.46 L173.86 269.00 L175.00 269.55 L176.16 270.09 L177.34 270.63 L178.53 271.17 L179.73 271.71 L180.94 272.25 L182.17 272.79 L183.42 273.33 L184.68 273.88 L185.95 274.42 L187.24 274.96 L188.54 275.50 L189.86 276.04 L191.19 276.58 L192.54 277.12 L193.90 277.66 L195.28 278.21 L196.68 278.75 L198.09 279.29 L199.52 279.83 L200.96 280.37 L202.42 280.91 L203.90 281.45 L205.40 282.00 L206.91 282.54 L208.44 283.08 L209.99 283.62 L211.55 284.16 L213.14 284.70 L214.74 285.24 L216.36 285.78 L218.00 286.32 L219.66 286.87 L221.34 287.41 L223.04 287.95 L224.75 288.49 L226.49 289.03 L228.25 289.57 L230.02 290.11 L231.82 290.65 L233.64 291.20 L235.48 291.74 L237.34 292.28 L239.22 292.82 L241.13 293.36 L243.06 293.90 L245.00 294.44 L246.98 294.99 L248.97 295.53 L250.99 296.07 L253.03 296.61 L255.09 297.15 L257.18 297.69 L259.29 298.23 L261.43 298.77 L263.59 299.31 L265.78 299.86 L267.99 300.40 L270.23 300.94 L272.49 301.48 L274.78 302.02 L277.10 302.56 L279.44 303.10 L281.81 303.64 L284.21 304.19 L286.63 304.73 L289.09 305.27 L291.57 305.81 L294.08 306.35 L296.62 306.89 L299.19 307.43 L301.79 307.97 L304.42 308.52 L307.08 309.06 L309.77 309.60 L312.49 310.14 L315.24 310.68 L318.03 311.22 L320.84 311.76 L323.69 312.31 L326.57 312.85 L329.49 313.39 L332.44 313.93 L335.42 314.47 L338.44 315.01 L341.50 315.55 L344.58 316.09 L347.71 316.63 L350.87 317.18 L354.07 317.72 L357.30 318.26 L360.57 318.80 L363.88 319.34 L367.23 319.88 L370.62 320.42 L374.04 320.96 L377.51 321.51 L381.02 322.05 L384.56 322.59 L388.15 323.13 L391.78 323.67 L395.45 324.21 L399.16 324.75 L402.92 325.30 L406.72 325.84 L410.56 326.38 L414.45 326.92 L418.39 327.46 L422.36 328.00 L426.39 328.54 L430.46 329.08 L434.58 329.62 L438.75 330.17 L442.96 330.71 L447.23 331.25 L451.54 331.79 L455.90 332.33 L460.32 332.87 L464.78 333.41 L469.30 333.95 L473.87 334.50 L478.49 335.04 L483.16 335.58 L487.89 336.12 L492.67 336.66 L497.51 337.20 L502.41 337.74 L507.36 338.28 L512.37 338.83 L517.44 339.37 L522.56 339.91 L527.75 340.45"/><path d="M79.28 115.38 L79.33 115.92 L79.39 116.46 L79.44 117.00 L79.49 117.54 L79.55 118.08 L79.60 118.63 L79.66 119.17 L79.72 119.71 L79.77 120.25 L79.83 120.79 L79.89 121.33 L79.95 121.87 L80.01 122.41 L80.07 122.96 L80.13 123.50 L80.20 124.04 L80.26 124.58 L80.32 125.12 L80.39 125.66 L80.45 126.20 L80.52 126.74 L80.59 127.29 L80.65 127.83 L80.72 128.37 L80.79 128.91 L80.86 129.45 L80.93 129.99 L81.00 130.53 L81.08 131.07 L81.15 131.62 L81.22 132.16 L81.30 132.70 L81.37 133.24 L81.45 133.78 L81.53 134.32 L81.61 134.86 L81.69 135.40 L81.77 135.95 L81.85 136.49 L81.93 137.03 L82.01 137.57 L82.10 138.11 L82.18 138.65 L82.27 139.19 L82.35 139.73 L82.44 140.28 L82.53 140.82 L82.62 141.36 L82.71 141.90 L82.81 142.44 L82.90 142.98 L82.99 143.52 L83.09 144.06 L83.19 144.61 L83.28 145.15 L83.38 145.69 L83.48 146.23 L83.58 146.77 L83.69 147.31 L83.79 147.85 L83.89 148.39 L84.00 148.94 L84.11 149.48 L84.21 150.02 L84.32 150.56 L84.43 151.10 L84.55 151.64 L84.66 152.18 L84.78 152.72 L84.89 153.27 L85.01 153.81 L85.13 154.35 L85.25 154.89 L85.37 155.43 L85.49 155.97 L85.62 156.51 L85.74 157.05 L85.87 157.60 L86.00 158.14 L86.13 158.68 L86.26 159.22 L86.39 159.76 L86.53 160.30 L86.67 160.84 L86.80 161.38 L86.94 161.93 L87.08 162.47 L87.23 163.01 L87.37 163.55 L87.52 164.09 L87.67 164.63 L87.81 165.17 L87.97 165.71 L88.12 166.26 L88.27 166.80 L88.43 167.34 L88.59 167.88 L88.75 168.42 L88.91 168.96 L89.08 169.50 L89.24 170.04 L89.41 170.59 L89.58 171.13 L89.75 171.67 L89.92 172.21 L90.10 172.75 L90.28 173.29 L90.46 173.83 L90.64 174.37 L90.82 174.92 L91.01 175.46 L91.20 176.00 L91.39 176.54 L91.58 177.08 L91.78 177.62 L91.97 178.16 L92.17 178.70 L92.37 179.25 L92.58 179.79 L92.78 180.33 L92.99 180.87 L93.20 181.41 L93.42 181.95 L93.63 182.49 L93.85 183.03 L94.07 183.58 L94.30 184.12 L94.52 184.66 L94.75 185.20 L94.98 185.74 L95.22 186.28 L95.46 186.82 L95.70 187.36 L95.94 187.91 L96.18 188.45 L96.43 188.99 L96.68 189.53 L96.94 190.07 L97.19 190.61 L97.45 191.15 L97.72 191.69 L97.98 192.24 L98.25 192.78 L98.52 193.32 L98.80 193.86 L99.08 194.40 L99.36 194.94 L99.64 195.48 L99.93 196.02 L100.22 196.57 L100.52 197.11 L100.82 197.65 L101.12 198.19 L101.42 198.73 L101.73 199.27 L102.05 199.81 L102.36 200.35 L102.68 200.90 L103.01 201.44 L103.33 201.98 L103.66 202.52 L104.00 203.06 L104.34 203.60 L104.68 204.14 L105.03 204.68 L105.38 205.23 L105.73 205.77 L106.09 206.31 L106.45 206.85 L106.82 207.39 L107.19 207.93 L107.57 208.47 L107.95 209.01 L108.33 209.56 L108.72 210.10 L109.11 210.64 L109.51 211.18 L109.91 211.72 L110.32 212.26 L110.73 212.80 L111.15 213.34 L111.57 213.89 L112.00 214.43 L112.43 214.97 L112.87 215.51 L113.31 216.05 L113.75 216.59 L114.20 217.13 L114.66 217.67 L115.12 218.22 L115.59 218.76 L116.06 219.30 L116.54 219.84 L117.03 220.38 L117.52 220.92 L118.01 221.46 L118.51 222.00 L119.02 222.55 L119.53 223.09 L120.05 223.63 L120.57 224.17 L121.11 224.71 L121.64 225.25 L122.18 225.79 L122.73 226.33 L123.29 226.88 L123.85 227.42 L124.42 227.96 L125.00 228.50 L125.58 229.04 L126.17 229.58 L126.76 230.12 L127.36 230.66 L127.97 231.21 L128.59 231.75 L129.21 232.29 L129.84 232.83 L130.48 233.37 L131.13 233.91 L131.78 234.45 L132.44 234.99 L133.11 235.54 L133.78 236.08 L134.47 236.62 L135.16 237.16 L135.86 237.70 L136.57 238.24 L137.28 238.78 L138.01 239.32 L138.74 239.87 L139.48 240.41 L140.23 240.95 L140.99 241.49 L141.75 242.03 L142.53 242.57 L143.31 243.11 L144.11 243.65 L144.91 244.20 L145.72 244.74 L146.55 245.28 L147.38 245.82 L148.22 246.36 L149.07 246.90 L149.93 247.44 L150.80 247.98 L151.68 248.53 L152.57 249.07 L153.47 249.61 L154.38 250.15 L155.31 250.69 L156.24 251.23 L157.18 251.77 L158.14 252.31 L159.10 252.86 L160.08 253.40 L161.07 253.94 L162.07 254.48 L163.08 255.02 L164.10 255.56 L165.14 256.10 L166.18 256.64 L167.24 257.19 L168.31 257.73 L169.40 258.27 L170.49 258.81 L171.60 259.35 L172.72 259.89 L173.86 260.43 L175.00 260.97 L176.16 261.52 L177.34 262.06 L178.53 262.60 L179.73 263.14 L180.94 263.68 L182.17 264.22 L183.42 264.76 L184.68 265.30 L185.95 265.85 L187.24 266.39 L188.54 266.93 L189.86 267.47 L191.19 268.01 L192.54 268.55 L193.90 269.09 L195.28 269.63 L196.68 270.18 L198.09 270.72 L199.52 271.26 L200.96 271.80 L202.42 272.34 L203.90 272.88 L205.40 273.42 L206.91 273.96 L208.44 274.51 L209.99 275.05 L211.55 275.59 L213.14 276.13 L214.74 276.67 L216.36 277.21 L218.00 277.75 L219.66 278.29 L221.34 278.84 L223.04 279.38 L224.75 279.92 L226.49 280.46 L228.25 281.00 L230.02 281.54 L231.82 282.08 L233.64 282.62 L235.48 283.17 L237.34 283.71 L239.22 284.25 L241.13 284.79 L243.06 285.33 L245.00 285.87 L246.98 286.41 L248.97 286.95 L250.99 287.50 L253.03 288.04 L255.09 288.58 L257.18 289.12 L259.29 289.66 L261.43 290.20 L263.59 290.74 L265.78 291.28 L267.99 291.83 L270.23 292.37 L272.49 292.91 L274.78 293.45 L277.10 293.99 L279.44 294.53 L281.81 295.07 L284.21 295.61 L286.63 296.16 L289.09 296.70 L291.57 297.24 L294.08 297.78 L296.62 298.32 L299.19 298.86 L301.79 299.40 L304.42 299.94 L307.08 300.49 L309.77 301.03 L312.49 301.57 L315.24 302.11 L318.03 302.65 L320.84 303.19 L323.69 303.73 L326.57 304.27 L329.49 304.82 L332.44 305.36 L335.42 305.90 L338.44 306.44 L341.50 306.98 L344.58 307.52 L347.71 308.06 L350.87 308.60 L354.07 309.15 L357.30 309.69 L360.57 310.23 L363.88 310.77 L367.23 311.31 L370.62 311.85 L374.04 312.39 L377.51 312.93 L381.02 313.48 L384.56 314.02 L388.15 314.56 L391.78 315.10 L395.45 315.64 L399.16 316.18 L402.92 316.72 L406.72 317.26 L410.56 317.81 L414.45 318.35 L418.39 318.89 L422.36 319.43 L426.39 319.97 L430.46 320.51 L434.58 321.05 L438.75 321.59 L442.96 322.14 L447.23 322.68 L451.54 323.22 L455.90 323.76 L460.32 324.30 L464.78 324.84 L469.30 325.38 L473.87 325.92 L478.49 326.47 L483.16 327.01 L487.89 327.55 L492.67 328.09 L497.51 328.63 L502.41 329.17 L507.36 329.71 L512.37 330.25 L517.44 330.80 L522.56 331.34 L527.75 331.88"/><path d="M79.28 15.70 L79.33 16.24 L79.39 16.78 L79.44 17.32 L79.49 17.87 L79.55 18.41 L79.60 18.95 L79.66 19.49 L79.72 20.03 L79.77 20.57 L79.83 21.11 L79.89 21.65 L79.95 22.19 L80.01 22.74 L80.07 23.28 L80.13 23.82 L80.20 24.36 L80.26 24.90 L80.32 25.44 L80.39 25.98 L80.45 26.52 L80.52 27.07 L80.59 27.61 L80.65 28.15 L80.72 28.69 L80.79 29.23 L80.86 29.77 L80.93 30.31 L81.00 30.86 L81.08 31.40 L81.15 31.94 L81.22 32.48 L81.30 33.02 L81.37 33.56 L81.45 34.10 L81.53 34.64 L81.61 35.19 L81.69 35.73 L81.77 36.27 L81.85 36.81 L81.93 37.35 L82.01 37.89 L82.10 38.43 L82.18 38.97 L82.27 39.51 L82.35 40.06 L82.44 40.60 L82.53 41.14 L82.62 41.68 L82.71 42.22 L82.81 42.76 L82.90 43.30 L82.99 43.84 L83.09 44.39 L83.19 44.93 L83.28 45.47 L83.38 46.01 L83.48 46.55 L83.58 47.09 L83.69 47.63 L83.79 48.17 L83.89 48.72 L84.00 49.26 L84.11 49.80 L84.21 50.34 L84.32 50.88 L84.43 51.42 L84.55 51.96 L84.66 52.50 L84.78 53.05 L84.89 53.59 L85.01 54.13 L85.13 54.67 L85.25 55.21 L85.37 55.75 L85.49 56.29 L85.62 56.83 L85.74 57.38 L85.87 57.92 L86.00 58.46 L86.13 59.00 L86.26 59.54 L86.39 60.08 L86.53 60.62 L86.67 61.16 L86.80 61.71 L86.94 62.25 L87.08 62.79 L87.23 63.33 L87.37 63.87 L87.52 64.41 L87.67 64.95 L87.81 65.50 L87.97 66.04 L88.12 66.58 L88.27 67.12 L88.43 67.66 L88.59 68.20 L88.75 68.74 L88.91 69.28 L89.08 69.82 L89.24 70.37 L89.41 70.91 L89.58 71.45 L89.75 71.99 L89.92 72.53 L90.10 73.07 L90.28 73.61 L90.46 74.15 L90.64 74.70 L90.82 75.24 L91.01 75.78 L91.20 76.32 L91.39 76.86 L91.58 77.40 L91.78 77.94 L91.97 78.49 L92.17 79.03 L92.37 79.57 L92.58 80.11 L92.78 80.65 L92.99 81.19 L93.20 81.73 L93.42 82.27 L93.63 82.81 L93.85 83.36 L94.07 83.90 L94.30 84.44 L94.52 84.98 L94.75 85.52 L94.98 86.06 L95.22 86.60 L95.46 87.15 L95.70 87.69 L95.94 88.23 L96.18 88.77 L96.43 89.31 L96.68 89.85 L96.94 90.39 L97.19 90.93 L97.45 91.47 L97.72 92.02 L97.98 92.56 L98.25 93.10 L98.52 93.64 L98.80 94.18 L99.08 94.72 L99.36 95.26 L99.64 95.81 L99.93 96.35 L100.22 96.89 L100.52 97.43 L100.82 97.97 L101.12 98.51 L101.42 99.05 L101.73 99.59 L102.05 100.14 L102.36 100.68 L102.68 101.22 L103.01 101.76 L103.33 102.30 L103.66 102.84 L104.00 103.38 L104.34 103.92 L104.68 104.46 L105.03 105.01 L105.38 105.55 L105.73 106.09 L106.09 106.63 L106.45 107.17 L106.82 107.71 L107.19 108.25 L107.57 108.79 L107.95 109.34 L108.33 109.88 L108.72 110.42 L109.11 110.96 L109.51 111.50 L109.91 112.04 L110.32 112.58 L110.73 113.12 L111.15 113.67 L111.57 114.21 L112.00 114.75 L112.43 115.29 L112.87 115.83 L113.31 116.37 L113.75 116.91 L114.20 117.45 L114.66 118.00 L115.12 118.54 L115.59 119.08 L116.06 119.62 L116.54 120.16 L117.03 120.70 L117.52 121.24 L118.01 121.78 L118.51 122.33 L119.02 122.87 L119.53 123.41 L120.05 123.95 L120.57 124.49 L121.11 125.03 L121.64 125.57 L122.18 126.11 L122.73 126.66 L123.29 127.20 L123.85 127.74 L124.42 128.28 L125.00 128.82 L125.58 129.36 L126.17 129.90 L126.76 130.44 L127.36 130.99 L127.97 131.53 L128.59 132.07 L129.21 132.61 L129.84 133.15 L130.48 133.69 L131.13 134.23 L131.78 134.78 L132.44 135.32 L133.11 135.86 L133.78 136.40 L134.47 136.94 L135.16 137.48 L135.86 138.02 L136.57 138.56 L137.28 139.10 L138.01 139.65 L138.74 140.19 L139.48 140.73 L140.23 141.27 L140.99 141.81 L141.75 142.35 L142.53 142.89 L143.31 143.43 L144.11 143.98 L144.91 144.52 L145.72 145.06 L146.55 145.60 L147.38 146.14 L148.22 146.68 L149.07 147.22 L149.93 147.76 L150.80 148.31 L151.68 148.85 L152.57 149.39 L153.47 149.93 L154.38 150.47 L155.31 151.01 L156.24 151.55 L157.18 152.09 L158.14 152.64 L159.10 153.18 L160.08 153.72 L161.07 154.26 L162.07 154.80 L163.08 155.34 L164.10 155.88 L165.14 156.42 L166.18 156.97 L167.24 157.51 L168.31 158.05 L169.40 158.59 L170.49 159.13 L171.60 159.67 L172.72 160.21 L173.86 160.75 L175.00 161.30 L176.16 161.84 L177.34 162.38 L178.53 162.92 L179.73 163.46 L180.94 164.00 L182.17 164.54 L183.42 165.08 L184.68 165.63 L185.95 166.17 L187.24 166.71 L188.54 167.25 L189.86 167.79 L191.19 168.33 L192.54 168.87 L193.90 169.41 L195.28 169.96 L196.68 170.50 L198.09 171.04 L199.52 171.58 L200.96 172.12 L202.42 172.66 L203.90 173.20 L205.40 173.74 L206.91 174.29 L208.44 174.83 L209.99 175.37 L211.55 175.91 L213.14 176.45 L214.74 176.99 L216.36 177.53 L218.00 178.07 L219.66 178.62 L221.34 179.16 L223.04 179.70 L224.75 180.24 L226.49 180.78 L228.25 181.32 L230.02 181.86 L231.82 182.41 L233.64 182.95 L235.48 183.49 L237.34 184.03 L239.22 184.57 L241.13 185.11 L243.06 185.65 L245.00 186.19 L246.98 186.73 L248.97 187.28 L250.99 187.82 L253.03 188.36 L255.09 188.90 L257.18 189.44 L259.29 189.98 L261.43 190.52 L263.59 191.06 L265.78 191.61 L267.99 192.15 L270.23 192.69 L272.49 193.23 L274.78 193.77 L277.10 194.31 L279.44 194.85 L281.81 195.39 L284.21 195.94 L286.63 196.48 L289.09 197.02 L291.57 197.56 L294.08 198.10 L296.62 198.64 L299.19 199.18 L301.79 199.72 L304.42 200.27 L307.08 200.81 L309.77 201.35 L312.49 201.89 L315.24 202.43 L318.03 202.97 L320.84 203.51 L323.69 204.05 L326.57 204.60 L329.49 205.14 L332.44 205.68 L335.42 206.22 L338.44 206.76 L341.50 207.30 L344.58 207.84 L347.71 208.38 L350.87 208.93 L354.07 209.47 L357.30 210.01 L360.57 210.55 L363.88 211.09 L367.23 211.63 L370.62 212.17 L374.04 212.71 L377.51 213.26 L381.02 213.80 L384.56 214.34 L388.15 214.88 L391.78 215.42 L395.45 215.96 L399.16 216.50 L402.92 217.05 L406.72 217.59 L410.56 218.13 L414.45 218.67 L418.39 219.21 L422.36 219.75 L426.39 220.29 L430.46 220.83 L434.58 221.38 L438.75 221.92 L442.96 222.46 L447.23 223.00 L451.54 223.54 L455.90 224.08 L460.32 224.62 L464.78 225.16 L469.30 225.70 L473.87 226.25 L478.49 226.79 L483.16 227.33 L487.89 227.87 L492.67 228.41 L497.51 228.95 L502.41 229.49 L507.36 230.03 L512.37 230.58 L517.44 231.12 L522.56 231.66 L527.75 232.20"/><path d="M79.28 7.13 L79.33 7.67 L79.39 8.21 L79.44 8.75 L79.49 9.29 L79.55 9.83 L79.60 10.38 L79.66 10.92 L79.72 11.46 L79.77 12.00 L79.83 12.54 L79.89 13.08 L79.95 13.62 L80.01 14.16 L80.07 14.71 L80.13 15.25 L80.20 15.79 L80.26 16.33 L80.32 16.87 L80.39 17.41 L80.45 17.95 L80.52 18.49 L80.59 19.04 L80.65 19.58 L80.72 20.12 L80.79 20.66 L80.86 21.20 L80.93 21.74 L81.00 22.28 L81.08 22.82 L81.15 23.37 L81.22 23.91 L81.30 24.45 L81.37 24.99 L81.45 25.53 L81.53 26.07 L81.61 26.61 L81.69 27.15 L81.77 27.70 L81.85 28.24 L81.93 28.78 L82.01 29.32 L82.10 29.86 L82.18 30.40 L82.27 30.94 L82.35 31.48 L82.44 32.03 L82.53 32.57 L82.62 33.11 L82.71 33.65 L82.81 34.19 L82.90 34.73 L82.99 35.27 L83.09 35.81 L83.19 36.36 L83.28 36.90 L83.38 37.44 L83.48 37.98 L83.58 38.52 L83.69 39.06 L83.79 39.60 L83.89 40.14 L84.00 40.69 L84.11 41.23 L84.21 41.77 L84.32 42.31 L84.43 42.85 L84.55 43.39 L84.66 43.93 L84.78 44.47 L84.89 45.02 L85.01 45.56 L85.13 46.10 L85.25 46.64 L85.37 47.18 L85.49 47.72 L85.62 48.26 L85.74 48.80 L85.87 49.35 L86.00 49.89 L86.13 50.43 L86.26 50.97 L86.39 51.51 L86.53 52.05 L86.67 52.59 L86.80 53.13 L86.94 53.68 L87.08 54.22 L87.23 54.76 L87.37 55.30 L87.52 55.84 L87.67 56.38 L87.81 56.92 L87.97 57.46 L88.12 58.01 L88.27 58.55 L88.43 59.09 L88.59 59.63 L88.75 60.17 L88.91 60.71 L89.08 61.25 L89.24 61.79 L89.41 62.34 L89.58 62.88 L89.75 63.42 L89.92 63.96 L90.10 64.50 L90.28 65.04 L90.46 65.58 L90.64 66.12 L90.82 66.67 L91.01 67.21 L91.20 67.75 L91.39 68.29 L91.58 68.83 L91.78 69.37 L91.97 69.91 L92.17 70.45 L92.37 71.00 L92.58 71.54 L92.78 72.08 L92.99 72.62 L93.20 73.16 L93.42 73.70 L93.63 74.24 L93.85 74.78 L94.07 75.33 L94.30 75.87 L94.52 76.41 L94.75 76.95 L94.98 77.49 L95.22 78.03 L95.46 78.57 L95.70 79.11 L95.94 79.66 L96.18 80.20 L96.43 80.74 L96.68 81.28 L96.94 81.82 L97.19 82.36 L97.45 82.90 L97.72 83.44 L97.98 83.99 L98.25 84.53 L98.52 85.07 L98.80 85.61 L99.08 86.15 L99.36 86.69 L99.64 87.23 L99.93 87.77 L100.22 88.32 L100.52 88.86 L100.82 89.40 L101.12 89.94 L101.42 90.48 L101.73 91.02 L102.05 91.56 L102.36 92.10 L102.68 92.65 L103.01 93.19 L103.33 93.73 L103.66 94.27 L104.00 94.81 L104.34 95.35 L104.68 95.89 L105.03 96.43 L105.38 96.98 L105.73 97.52 L106.09 98.06 L106.45 98.60 L106.82 99.14 L107.19 99.68 L107.57 100.22 L107.95 100.76 L108.33 101.31 L108.72 101.85 L109.11 102.39 L109.51 102.93 L109.91 103.47 L110.32 104.01 L110.73 104.55 L111.15 105.09 L111.57 105.64 L112.00 106.18 L112.43 106.72 L112.87 107.26 L113.31 107.80 L113.75 108.34 L114.20 108.88 L114.66 109.42 L115.12 109.97 L115.59 110.51 L116.06 111.05 L116.54 111.59 L117.03 112.13 L117.52 112.67 L118.01 113.21 L118.51 113.75 L119.02 114.30 L119.53 114.84 L120.05 115.38 L120.57 115.92 L121.11 116.46 L121.64 117.00 L122.18 117.54 L122.73 118.08 L123.29 118.63 L123.85 119.17 L124.42 119.71 L125.00 120.25 L125.58 120.79 L126.17 121.33 L126.76 121.87 L127.36 122.41 L127.97 122.96 L128.59 123.50 L129.21 124.04 L129.84 124.58 L130.48 125.12 L131.13 125.66 L131.78 126.20 L132.44 126.74 L133.11 127.29 L133.78 127.83 L134.47 128.37 L135.16 128.91 L135.86 129.45 L136.57 129.99 L137.28 130.53 L138.01 131.07 L138.74 131.62 L139.48 132.16 L140.23 132.70 L140.99 133.24 L141.75 133.78 L142.53 134.32 L143.31 134.86 L144.11 135.40 L144.91 135.95 L145.72 136.49 L146.55 137.03 L147.38 137.57 L148.22 138.11 L149.07 138.65 L149.93 139.19 L150.80 139.73 L151.68 140.28 L152.57 140.82 L153.47 141.36 L154.38 141.90 L155.31 142.44 L156.24 142.98 L157.18 143.52 L158.14 144.06 L159.10 144.61 L160.08 145.15 L161.07 145.69 L162.07 146.23 L163.08 146.77 L164.10 147.31 L165.14 147.85 L166.18 148.39 L167.24 148.94 L168.31 149.48 L169.40 150.02 L170.49 150.56 L171.60 151.10 L172.72 151.64 L173.86 152.18 L175.00 152.72 L176.16 153.27 L177.34 153.81 L178.53 154.35 L179.73 154.89 L180.94 155.43 L182.17 155.97 L183.42 156.51 L184.68 157.05 L185.95 157.60 L187.24 158.14 L188.54 158.68 L189.86 159.22 L191.19 159.76 L192.54 160.30 L193.90 160.84 L195.28 161.38 L196.68 161.93 L198.09 162.47 L199.52 163.01 L200.96 163.55 L202.42 164.09 L203.90 164.63 L205.40 165.17 L206.91 165.71 L208.44 166.26 L209.99 166.80 L211.55 167.34 L213.14 167.88 L214.74 168.42 L216.36 168.96 L218.00 169.50 L219.66 170.04 L221.34 170.59 L223.04 171.13 L224.75 171.67 L226.49 172.21 L228.25 172.75 L230.02 173.29 L231.82 173.83 L233.64 174.37 L235.48 174.92 L237.34 175.46 L239.22 176.00 L241.13 176.54 L243.06 177.08 L245.00 177.62 L246.98 178.16 L248.97 178.70 L250.99 179.25 L253.03 179.79 L255.09 180.33 L257.18 180.87 L259.29 181.41 L261.43 181.95 L263.59 182.49 L265.78 183.03 L267.99 183.58 L270.23 184.12 L272.49 184.66 L274.78 185.20 L277.10 185.74 L279.44 186.28 L281.81 186.82 L284.21 187.36 L286.63 187.91 L289.09 188.45 L291.57 188.99 L294.08 189.53 L296.62 190.07 L299.19 190.61 L301.79 191.15 L304.42 191.69 L307.08 192.24 L309.77 192.78 L312.49 193.32 L315.24 193.86 L318.03 194.40 L320.84 194.94 L323.69 195.48 L326.57 196.02 L329.49 196.57 L332.44 197.11 L335.42 197.65 L338.44 198.19 L341.50 198.73 L344.58 199.27 L347.71 199.81 L350.87 200.35 L354.07 200.90 L357.30 201.44 L360.57 201.98 L363.88 202.52 L367.23 203.06 L370.62 203.60 L374.04 204.14 L377.51 204.68 L381.02 205.23 L384.56 205.77 L388.15 206.31 L391.78 206.85 L395.45 207.39 L399.16 207.93 L402.92 208.47 L406.72 209.01 L410.56 209.56 L414.45 210.10 L418.39 210.64 L422.36 211.18 L426.39 211.72 L430.46 212.26 L434.58 212.80 L438.75 213.34 L442.96 213.89 L447.23 214.43 L451.54 214.97 L455.90 215.51 L460.32 216.05 L464.78 216.59 L469.30 217.13 L473.87 217.67 L478.49 218.22 L483.16 218.76 L487.89 219.30 L492.67 219.84 L497.51 220.38 L502.41 220.92 L507.36 221.46 L512.37 222.00 L517.44 222.55 L522.56 223.09 L527.75 223.63"/><path d="M79.28 -92.55 L79.33 -92.01 L79.39 -91.47 L79.44 -90.93 L79.49 -90.38 L79.55 -89.84 L79.60 -89.30 L79.66 -88.76 L79.72 -88.22 L79.77 -87.68 L79.83 -87.14 L79.89 -86.60 L79.95 -86.06 L80.01 -85.51 L80.07 -84.97 L80.13 -84.43 L80.20 -83.89 L80.26 -83.35 L80.32 -82.81 L80.39 -82.27 L80.45 -81.73 L80.52 -81.18 L80.59 -80.64 L80.65 -80.10 L80.72 -79.56 L80.79 -79.02 L80.86 -78.48 L80.93 -77.94 L81.00 -77.39 L81.08 -76.85 L81.15 -76.31 L81.22 -75.77 L81.30 -75.23 L81.37 -74.69 L81.45 -74.15 L81.53 -73.61 L81.61 -73.06 L81.69 -72.52 L81.77 -71.98 L81.85 -71.44 L81.93 -70.90 L82.01 -70.36 L82.10 -69.82 L82.18 -69.28 L82.27 -68.74 L82.35 -68.19 L82.44 -67.65 L82.53 -67.11 L82.62 -66.57 L82.71 -66.03 L82.81 -65.49 L82.90 -64.95 L82.99 -64.41 L83.09 -63.86 L83.19 -63.32 L83.28 -62.78 L83.38 -62.24 L83.48 -61.70 L83.58 -61.16 L83.69 -60.62 L83.79 -60.08 L83.89 -59.53 L84.00 -58.99 L84.11 -58.45 L84.21 -57.91 L84.32 -57.37 L84.43 -56.83 L84.55 -56.29 L84.66 -55.75 L84.78 -55.20 L84.89 -54.66 L85.01 -54.12 L85.13 -53.58 L85.25 -53.04 L85.37 -52.50 L85.49 -51.96 L85.62 -51.42 L85.74 -50.87 L85.87 -50.33 L86.00 -49.79 L86.13 -49.25 L86.26 -48.71 L86.39 -48.17 L86.53 -47.63 L86.67 -47.09 L86.80 -46.54 L86.94 -46.00 L87.08 -45.46 L87.23 -44.92 L87.37 -44.38 L87.52 -43.84 L87.67 -43.30 L87.81 -42.75 L87.97 -42.21 L88.12 -41.67 L88.27 -41.13 L88.43 -40.59 L88.59 -40.05 L88.75 -39.51 L88.91 -38.97 L89.08 -38.43 L89.24 -37.88 L89.41 -37.34 L89.58 -36.80 L89.75 -36.26 L89.92 -35.72 L90.10 -35.18 L90.28 -34.64 L90.46 -34.10 L90.64 -33.55 L90.82 -33.01 L91.01 -32.47 L91.20 -31.93 L91.39 -31.39 L91.58 -30.85 L91.78 -30.31 L91.97 -29.76 L92.17 -29.22 L92.37 -28.68 L92.58 -28.14 L92.78 -27.60 L92.99 -27.06 L93.20 -26.52 L93.42 -25.98 L93.63 -25.44 L93.85 -24.89 L94.07 -24.35 L94.30 -23.81 L94.52 -23.27 L94.75 -22.73 L94.98 -22.19 L95.22 -21.65 L95.46 -21.11 L95.70 -20.56 L95.94 -20.02 L96.18 -19.48 L96.43 -18.94 L96.68 -18.40 L96.94 -17.86 L97.19 -17.32 L97.45 -16.77 L97.72 -16.23 L97.98 -15.69 L98.25 -15.15 L98.52 -14.61 L98.80 -14.07 L99.08 -13.53 L99.36 -12.99 L99.64 -12.44 L99.93 -11.90 L100.22 -11.36 L100.52 -10.82 L100.82 -10.28 L101.12 -9.74 L101.42 -9.20 L101.73 -8.66 L102.05 -8.12 L102.36 -7.57 L102.68 -7.03 L103.01 -6.49 L103.33 -5.95 L103.66 -5.41 L104.00 -4.87 L104.34 -4.33 L104.68 -3.79 L105.03 -3.24 L105.38 -2.70 L105.73 -2.16 L106.09 -1.62 L106.45 -1.08 L106.82 -0.54 L107.19 0.00 L107.57 0.54 L107.95 1.09 L108.33 1.63 L108.72 2.17 L109.11 2.71 L109.51 3.25 L109.91 3.79 L110.32 4.33 L110.73 4.88 L111.15 5.42 L111.57 5.96 L112.00 6.50 L112.43 7.04 L112.87 7.58 L113.31 8.12 L113.75 8.66 L114.20 9.20 L114.66 9.75 L115.12 10.29 L115.59 10.83 L116.06 11.37 L116.54 11.91 L117.03 12.45 L117.52 12.99 L118.01 13.53 L118.51 14.08 L119.02 14.62 L119.53 15.16 L120.05 15.70 L120.57 16.24 L121.11 16.78 L121.64 17.32 L122.18 17.87 L122.73 18.41 L123.29 18.95 L123.85 19.49 L124.42 20.03 L125.00 20.57 L125.58 21.11 L126.17 21.65 L126.76 22.19 L127.36 22.74 L127.97 23.28 L128.59 23.82 L129.21 24.36 L129.84 24.90 L130.48 25.44 L131.13 25.98 L131.78 26.52 L132.44 27.07 L133.11 27.61 L133.78 28.15 L134.47 28.69 L135.16 29.23 L135.86 29.77 L136.57 30.31 L137.28 30.85 L138.01 31.40 L138.74 31.94 L139.48 32.48 L140.23 33.02 L140.99 33.56 L141.75 34.10 L142.53 34.64 L143.31 35.19 L144.11 35.73 L144.91 36.27 L145.72 36.81 L146.55 37.35 L147.38 37.89 L148.22 38.43 L149.07 38.97 L149.93 39.51 L150.80 40.06 L151.68 40.60 L152.57 41.14 L153.47 41.68 L154.38 42.22 L155.31 42.76 L156.24 43.30 L157.18 43.84 L158.14 44.39 L159.10 44.93 L160.08 45.47 L161.07 46.01 L162.07 46.55 L163.08 47.09 L164.10 47.63 L165.14 48.17 L166.18 48.72 L167.24 49.26 L168.31 49.80 L169.40 50.34 L170.49 50.88 L171.60 51.42 L172.72 51.96 L173.86 52.50 L175.00 53.05 L176.16 53.59 L177.34 54.13 L178.53 54.67 L179.73 55.21 L180.94 55.75 L182.17 56.29 L183.42 56.83 L184.68 57.38 L185.95 57.92 L187.24 58.46 L188.54 59.00 L189.86 59.54 L191.19 60.08 L192.54 60.62 L193.90 61.16 L195.28 61.71 L196.68 62.25 L198.09 62.79 L199.52 63.33 L200.96 63.87 L202.42 64.41 L203.90 64.95 L205.40 65.50 L206.91 66.04 L208.44 66.58 L209.99 67.12 L211.55 67.66 L213.14 68.20 L214.74 68.74 L216.36 69.28 L218.00 69.82 L219.66 70.37 L221.34 70.91 L223.04 71.45 L224.75 71.99 L226.49 72.53 L228.25 73.07 L230.02 73.61 L231.82 74.15 L233.64 74.70 L235.48 75.24 L237.34 75.78 L239.22 76.32 L241.13 76.86 L243.06 77.40 L245.00 77.94 L246.98 78.49 L248.97 79.03 L250.99 79.57 L253.03 80.11 L255.09 80.65 L257.18 81.19 L259.29 81.73 L261.43 82.27 L263.59 82.81 L265.78 83.36 L267.99 83.90 L270.23 84.44 L272.49 84.98 L274.78 85.52 L277.10 86.06 L279.44 86.60 L281.81 87.15 L284.21 87.69 L286.63 88.23 L289.09 88.77 L291.57 89.31 L294.08 89.85 L296.62 90.39 L299.19 90.93 L301.79 91.47 L304.42 92.02 L307.08 92.56 L309.77 93.10 L312.49 93.64 L315.24 94.18 L318.03 94.72 L320.84 95.26 L323.69 95.81 L326.57 96.35 L329.49 96.89 L332.44 97.43 L335.42 97.97 L338.44 98.51 L341.50 99.05 L344.58 99.59 L347.71 100.14 L350.87 100.68 L354.07 101.22 L357.30 101.76 L360.57 102.30 L363.88 102.84 L367.23 103.38 L370.62 103.92 L374.04 104.47 L377.51 105.01 L381.02 105.55 L384.56 106.09 L388.15 106.63 L391.78 107.17 L395.45 107.71 L399.16 108.25 L402.92 108.80 L406.72 109.34 L410.56 109.88 L414.45 110.42 L418.39 110.96 L422.36 111.50 L426.39 112.04 L430.46 112.58 L434.58 113.12 L438.75 113.67 L442.96 114.21 L447.23 114.75 L451.54 115.29 L455.90 115.83 L460.32 116.37 L464.78 116.91 L469.30 117.45 L473.87 118.00 L478.49 118.54 L483.16 119.08 L487.89 119.62 L492.67 120.16 L497.51 120.70 L502.41 121.24 L507.36 121.78 L512.37 122.33 L517.44 122.87 L522.56 123.41 L527.75 123.95"/><path d="M79.28 -101.12 L79.33 -100.58 L79.39 -100.04 L79.44 -99.50 L79.49 -98.96 L79.55 -98.42 L79.60 -97.87 L79.66 -97.33 L79.72 -96.79 L79.77 -96.25 L79.83 -95.71 L79.89 -95.17 L79.95 -94.63 L80.01 -94.09 L80.07 -93.54 L80.13 -93.00 L80.20 -92.46 L80.26 -91.92 L80.32 -91.38 L80.39 -90.84 L80.45 -90.30 L80.52 -89.76 L80.59 -89.21 L80.65 -88.67 L80.72 -88.13 L80.79 -87.59 L80.86 -87.05 L80.93 -86.51 L81.00 -85.97 L81.08 -85.43 L81.15 -84.88 L81.22 -84.34 L81.30 -83.80 L81.37 -83.26 L81.45 -82.72 L81.53 -82.18 L81.61 -81.64 L81.69 -81.10 L81.77 -80.55 L81.85 -80.01 L81.93 -79.47 L82.01 -78.93 L82.10 -78.39 L82.18 -77.85 L82.27 -77.31 L82.35 -76.77 L82.44 -76.22 L82.53 -75.68 L82.62 -75.14 L82.71 -74.60 L82.81 -74.06 L82.90 -73.52 L82.99 -72.98 L83.09 -72.44 L83.19 -71.89 L83.28 -71.35 L83.38 -70.81 L83.48 -70.27 L83.58 -69.73 L83.69 -69.19 L83.79 -68.65 L83.89 -68.11 L84.00 -67.56 L84.11 -67.02 L84.21 -66.48 L84.32 -65.94 L84.43 -65.40 L84.55 -64.86 L84.66 -64.32 L84.78 -63.78 L84.89 -63.23 L85.01 -62.69 L85.13 -62.15 L85.25 -61.61 L85.37 -61.07 L85.49 -60.53 L85.62 -59.99 L85.74 -59.45 L85.87 -58.90 L86.00 -58.36 L86.13 -57.82 L86.26 -57.28 L86.39 -56.74 L86.53 -56.20 L86.67 -55.66 L86.80 -55.12 L86.94 -54.57 L87.08 -54.03 L87.23 -53.49 L87.37 -52.95 L87.52 -52.41 L87.67 -51.87 L87.81 -51.33 L87.97 -50.79 L88.12 -50.24 L88.27 -49.70 L88.43 -49.16 L88.59 -48.62 L88.75 -48.08 L88.91 -47.54 L89.08 -47.00 L89.24 -46.46 L89.41 -45.91 L89.58 -45.37 L89.75 -44.83 L89.92 -44.29 L90.10 -43.75 L90.28 -43.21 L90.46 -42.67 L90.64 -42.13 L90.82 -41.58 L91.01 -41.04 L91.20 -40.50 L91.39 -39.96 L91.58 -39.42 L91.78 -38.88 L91.97 -38.34 L92.17 -37.80 L92.37 -37.25 L92.58 -36.71 L92.78 -36.17 L92.99 -35.63 L93.20 -35.09 L93.42 -34.55 L93.63 -34.01 L93.85 -33.47 L94.07 -32.92 L94.30 -32.38 L94.52 -31.84 L94.75 -31.30 L94.98 -30.76 L95.22 -30.22 L95.46 -29.68 L95.70 -29.14 L95.94 -28.59 L96.18 -28.05 L96.43 -27.51 L96.68 -26.97 L96.94 -26.43 L97.19 -25.89 L97.45 -25.35 L97.72 -24.81 L97.98 -24.26 L98.25 -23.72 L98.52 -23.18 L98.80 -22.64 L99.08 -22.10 L99.36 -21.56 L99.64 -21.02 L99.93 -20.48 L100.22 -19.93 L100.52 -19.39 L100.82 -18.85 L101.12 -18.31 L101.42 -17.77 L101.73 -17.23 L102.05 -16.69 L102.36 -16.15 L102.68 -15.60 L103.01 -15.06 L103.33 -14.52 L103.66 -13.98 L104.00 -13.44 L104.34 -12.90 L104.68 -12.36 L105.03 -11.82 L105.38 -11.27 L105.73 -10.73 L106.09 -10.19 L106.45 -9.65 L106.82 -9.11 L107.19 -8.57 L107.57 -8.03 L107.95 -7.49 L108.33 -6.94 L108.72 -6.40 L109.11 -5.86 L109.51 -5.32 L109.91 -4.78 L110.32 -4.24 L110.73 -3.70 L111.15 -3.16 L111.57 -2.61 L112.00 -2.07 L112.43 -1.53 L112.87 -0.99 L113.31 -0.45 L113.75 0.09 L114.20 0.63 L114.66 1.17 L115.12 1.72 L115.59 2.26 L116.06 2.80 L116.54 3.34 L117.03 3.88 L117.52 4.42 L118.01 4.96 L118.51 5.50 L119.02 6.05 L119.53 6.59 L120.05 7.13 L120.57 7.67 L121.11 8.21 L121.64 8.75 L122.18 9.29 L122.73 9.83 L123.29 10.38 L123.85 10.92 L124.42 11.46 L125.00 12.00 L125.58 12.54 L126.17 13.08 L126.76 13.62 L127.36 14.16 L127.97 14.71 L128.59 15.25 L129.21 15.79 L129.84 16.33 L130.48 16.87 L131.13 17.41 L131.78 17.95 L132.44 18.49 L133.11 19.04 L133.78 19.58 L134.47 20.12 L135.16 20.66 L135.86 21.20 L136.57 21.74 L137.28 22.28 L138.01 22.82 L138.74 23.37 L139.48 23.91 L140.23 24.45 L140.99 24.99 L141.75 25.53 L142.53 26.07 L143.31 26.61 L144.11 27.15 L144.91 27.70 L145.72 28.24 L146.55 28.78 L147.38 29.32 L148.22 29.86 L149.07 30.40 L149.93 30.94 L150.80 31.48 L151.68 32.03 L152.57 32.57 L153.47 33.11 L154.38 33.65 L155.31 34.19 L156.24 34.73 L157.18 35.27 L158.14 35.81 L159.10 36.36 L160.08 36.90 L161.07 37.44 L162.07 37.98 L163.08 38.52 L164.10 39.06 L165.14 39.60 L166.18 40.14 L167.24 40.69 L168.31 41.23 L169.40 41.77 L170.49 42.31 L171.60 42.85 L172.72 43.39 L173.86 43.93 L175.00 44.47 L176.16 45.02 L177.34 45.56 L178.53 46.10 L179.73 46.64 L180.94 47.18 L182.17 47.72 L183.42 48.26 L184.68 48.80 L185.95 49.35 L187.24 49.89 L188.54 50.43 L189.86 50.97 L191.19 51.51 L192.54 52.05 L193.90 52.59 L195.28 53.13 L196.68 53.68 L198.09 54.22 L199.52 54.76 L200.96 55.30 L202.42 55.84 L203.90 56.38 L205.40 56.92 L206.91 57.46 L208.44 58.01 L209.99 58.55 L211.55 59.09 L213.14 59.63 L214.74 60.17 L216.36 60.71 L218.00 61.25 L219.66 61.79 L221.34 62.34 L223.04 62.88 L224.75 63.42 L226.49 63.96 L228.25 64.50 L230.02 65.04 L231.82 65.58 L233.64 66.12 L235.48 66.67 L237.34 67.21 L239.22 67.75 L241.13 68.29 L243.06 68.83 L245.00 69.37 L246.98 69.91 L248.97 70.45 L250.99 71.00 L253.03 71.54 L255.09 72.08 L257.18 72.62 L259.29 73.16 L261.43 73.70 L263.59 74.24 L265.78 74.78 L267.99 75.33 L270.23 75.87 L272.49 76.41 L274.78 76.95 L277.10 77.49 L279.44 78.03 L281.81 78.57 L284.21 79.11 L286.63 79.66 L289.09 80.20 L291.57 80.74 L294.08 81.28 L296.62 81.82 L299.19 82.36 L301.79 82.90 L304.42 83.44 L307.08 83.99 L309.77 84.53 L312.49 85.07 L315.24 85.61 L318.03 86.15 L320.84 86.69 L323.69 87.23 L326.57 87.77 L329.49 88.32 L332.44 88.86 L335.42 89.40 L338.44 89.94 L341.50 90.48 L344.58 91.02 L347.71 91.56 L350.87 92.10 L354.07 92.65 L357.30 93.19 L360.57 93.73 L363.88 94.27 L367.23 94.81 L370.62 95.35 L374.04 95.89 L377.51 96.43 L381.02 96.98 L384.56 97.52 L388.15 98.06 L391.78 98.60 L395.45 99.14 L399.16 99.68 L402.92 100.22 L406.72 100.76 L410.56 101.31 L414.45 101.85 L418.39 102.39 L422.36 102.93 L426.39 103.47 L430.46 104.01 L434.58 104.55 L438.75 105.09 L442.96 105.64 L447.23 106.18 L451.54 106.72 L455.90 107.26 L460.32 107.80 L464.78 108.34 L469.30 108.88 L473.87 109.42 L478.49 109.97 L483.16 110.51 L487.89 111.05 L492.67 111.59 L497.51 112.13 L502.41 112.67 L507.36 113.21 L512.37 113.75 L517.44 114.30 L522.56 114.84 L527.75 115.38"/></g>
<g fill="none" stroke="#00ff00" stroke-dasharray="4.4 2.15"><path d="M74.30 100.50 H527.75" stroke-width="1.2"/><path d="M74.30 208.65 H527.75" stroke-width="1.45"/></g>
<g fill="none" stroke="#0000ff" stroke-width="1.2" stroke-dasharray="1.2 1.55"><path d="M79.28 340.45 L79.28 164.25 L79.33 164.07 L79.39 163.89 L79.44 163.71 L79.49 163.53 L79.55 163.35 L79.60 163.17 L79.66 162.99 L79.72 162.81 L79.77 162.63 L79.83 162.45 L79.89 162.26 L79.95 162.08 L80.01 161.90 L80.07 161.72 L80.13 161.54 L80.20 161.36 L80.26 161.18 L80.32 161.00 L80.39 160.82 L80.45 160.64 L80.52 160.46 L80.59 160.28 L80.65 160.10 L80.72 159.92 L80.79 159.74 L80.86 159.56 L80.93 159.38 L81.00 159.20 L81.08 159.02 L81.15 158.84 L81.22 158.66 L81.30 158.48 L81.37 158.30 L81.45 158.12 L81.53 157.93 L81.61 157.75 L81.69 157.57 L81.77 157.39 L81.85 157.21 L81.93 157.03 L82.01 156.85 L82.10 156.67 L82.18 156.49 L82.27 156.31 L82.35 156.13 L82.44 155.95 L82.53 155.77 L82.62 155.59 L82.71 155.41 L82.81 155.23 L82.90 155.05 L82.99 154.87 L83.09 154.69 L83.19 154.51 L83.28 154.33 L83.38 154.15 L83.48 153.97 L83.58 153.79 L83.69 153.60 L83.79 153.42 L83.89 153.24 L84.00 153.06 L84.11 152.88 L84.21 152.70 L84.32 152.52 L84.43 152.34 L84.55 152.16 L84.66 151.98 L84.78 151.80 L84.89 151.62 L85.01 151.44 L85.13 151.26 L85.25 151.08 L85.37 150.90 L85.49 150.72 L85.62 150.54 L85.74 150.36 L85.87 150.18 L86.00 150.00 L86.13 149.82 L86.26 149.64 L86.39 149.46 L86.53 149.27 L86.67 149.09 L86.80 148.91 L86.94 148.73 L87.08 148.55 L87.23 148.37 L87.37 148.19 L87.52 148.01 L87.67 147.83 L87.81 147.65 L87.97 147.47 L88.12 147.29 L88.27 147.11 L88.43 146.93 L88.59 146.75 L88.75 146.57 L88.91 146.39 L89.08 146.21 L89.24 146.03 L89.41 145.85 L89.58 145.67 L89.75 145.49 L89.92 145.31 L90.10 145.13 L90.28 144.94 L90.46 144.76 L90.64 144.58 L90.82 144.40 L91.01 144.22 L91.20 144.04 L91.39 143.86 L91.58 143.68 L91.78 143.50 L91.97 143.32 L92.17 143.14 L92.37 142.96 L92.58 142.78 L92.78 142.60 L92.99 142.42 L93.20 142.24 L93.42 142.06 L93.63 141.88 L93.85 141.70 L94.07 141.52 L94.30 141.34 L94.52 141.16 L94.75 140.98 L94.98 140.80 L95.22 140.61 L95.46 140.43 L95.70 140.25 L95.94 140.07 L96.18 139.89 L96.43 139.71 L96.68 139.53 L96.94 139.35 L97.19 139.17 L97.45 138.99 L97.72 138.81 L97.98 138.63 L98.25 138.45 L98.52 138.27 L98.80 138.09 L99.08 137.91 L99.36 137.73 L99.64 137.55 L99.93 137.37 L100.22 137.19 L100.52 137.01 L100.82 136.83 L101.12 136.65 L101.42 136.47 L101.73 136.28 L102.05 136.10 L102.36 135.92 L102.68 135.74 L103.01 135.56 L103.33 135.38 L103.66 135.20 L104.00 135.02 L104.34 134.84 L104.68 134.66 L105.03 134.48 L105.38 134.30 L105.73 134.12 L106.09 133.94 L106.45 133.76 L106.82 133.58 L107.19 133.40 L107.57 133.22 L107.95 133.04 L108.33 132.86 L108.72 132.68 L109.11 132.50 L109.51 132.32 L109.91 132.14 L110.32 131.95 L110.73 131.77 L111.15 131.59 L111.57 131.41 L112.00 131.23 L112.43 131.05 L112.87 130.87 L113.31 130.69 L113.75 130.51 L114.20 130.33 L114.66 130.15 L115.12 129.97 L115.59 129.79 L116.06 129.61 L116.54 129.43 L117.03 129.25 L117.52 129.07 L118.01 128.89 L118.51 128.71 L119.02 128.53 L119.53 128.35 L120.05 128.17 L120.57 127.99 L121.11 127.81 L121.64 127.62 L122.18 127.44 L122.73 127.26 L123.29 127.08 L123.85 126.90 L124.42 126.72 L125.00 126.54 L125.58 126.36 L126.17 126.18 L126.76 126.00 L127.36 125.82 L127.97 125.64 L128.59 125.46 L129.21 125.28 L129.84 125.10 L130.48 124.92 L131.13 124.74 L131.78 124.56 L132.44 124.38 L133.11 124.20 L133.78 124.02 L134.47 123.84 L135.16 123.66 L135.86 123.48 L136.57 123.29 L137.28 123.11 L138.01 122.93 L138.74 122.75 L139.48 122.57 L140.23 122.39 L140.99 122.21 L141.75 122.03 L142.53 121.85 L143.31 121.67 L144.11 121.49 L144.91 121.31 L145.72 121.13 L146.55 120.95 L147.38 120.77 L148.22 120.59 L149.07 120.41 L149.93 120.23 L150.80 120.05 L151.68 119.87 L152.57 119.69 L153.47 119.51 L154.38 119.33 L155.31 119.15 L156.24 118.96 L157.18 118.78 L158.14 118.60 L159.10 118.42 L160.08 118.24 L161.07 118.06 L162.07 117.88 L163.08 117.70 L164.10 117.52 L165.14 117.34 L166.18 117.16 L167.24 116.98 L168.31 116.80 L169.40 116.62 L170.49 116.44 L171.60 116.26 L172.72 116.08 L173.86 115.90 L175.00 115.72 L176.16 115.54 L177.34 115.36 L178.53 115.18 L179.73 115.00 L180.94 114.82 L182.17 114.63 L183.42 114.45 L184.68 114.27 L185.95 114.09 L187.24 113.91 L188.54 113.73 L189.86 113.55 L191.19 113.37 L192.54 113.19 L193.90 113.01 L195.28 112.83 L196.68 112.65 L198.09 112.47 L199.52 112.29 L200.96 112.11 L202.42 111.93 L203.90 111.75 L205.40 111.57 L206.91 111.39 L208.44 111.21 L209.99 111.03 L211.55 110.85 L213.14 110.67 L214.74 110.49 L216.36 110.30 L218.00 110.12 L219.66 109.94 L221.34 109.76 L223.04 109.58 L224.75 109.40 L226.49 109.22 L228.25 109.04 L230.02 108.86 L231.82 108.68 L233.64 108.50 L235.48 108.32 L237.34 108.14 L239.22 107.96 L241.13 107.78 L243.06 107.60 L245.00 107.42 L246.98 107.24 L248.97 107.06 L250.99 106.88 L253.03 106.70 L255.09 106.52 L257.18 106.34 L259.29 106.16 L261.43 105.97 L263.59 105.79 L265.78 105.61 L267.99 105.43 L270.23 105.25 L272.49 105.07 L274.78 104.89 L277.10 104.71 L279.44 104.53 L281.81 104.35 L284.21 104.17 L286.63 103.99 L289.09 103.81 L291.57 103.63 L294.08 103.45 L296.62 103.27 L299.19 103.09 L301.79 102.91 L304.42 102.73 L307.08 102.55 L309.77 102.37 L312.49 102.19 L315.24 102.01 L318.03 101.83 L320.84 101.64 L323.69 101.46 L326.57 101.28 L329.49 101.10 L332.44 100.92 L335.42 100.74 L338.44 100.56 L341.50 100.38 L344.58 100.20 L347.71 100.02 L350.87 99.84 L354.07 99.66 L357.30 99.48 L360.57 99.30 L363.88 99.12 L367.23 98.94 L370.62 98.76 L374.04 98.58 L377.51 98.40 L381.02 98.22 L384.56 98.04 L388.15 97.86 L391.78 97.68 L395.45 97.50 L399.16 97.31 L402.92 97.13 L406.72 96.95 L410.56 96.77 L414.45 96.59 L418.39 96.41 L422.36 96.23 L426.39 96.05 L430.46 95.87 L434.58 95.69 L438.75 95.51 L442.96 95.33 L447.23 95.15 L451.54 94.97 L455.90 94.79 L460.32 94.61 L464.78 94.43 L469.30 94.25 L473.87 94.07 L478.49 93.89 L483.16 93.71 L487.89 93.53 L492.67 93.35 L497.51 93.17 L502.41 92.98 L507.36 92.80 L512.37 92.62 L517.44 92.44 L522.56 92.26 L527.75 92.08"/><path d="M79.28 340.45 L79.28 167.04 L79.33 166.86 L79.39 166.68 L79.44 166.50 L79.49 166.32 L79.55 166.14 L79.60 165.96 L79.66 165.78 L79.72 165.60 L79.77 165.42 L79.83 165.24 L79.89 165.06 L79.95 164.88 L80.01 164.70 L80.07 164.52 L80.13 164.34 L80.20 164.16 L80.26 163.98 L80.32 163.80 L80.39 163.62 L80.45 163.44 L80.52 163.26 L80.59 163.08 L80.65 162.90 L80.72 162.71 L80.79 162.53 L80.86 162.35 L80.93 162.17 L81.00 161.99 L81.08 161.81 L81.15 161.63 L81.22 161.45 L81.30 161.27 L81.37 161.09 L81.45 160.91 L81.53 160.73 L81.61 160.55 L81.69 160.37 L81.77 160.19 L81.85 160.01 L81.93 159.83 L82.01 159.65 L82.10 159.47 L82.18 159.29 L82.27 159.11 L82.35 158.93 L82.44 158.75 L82.53 158.57 L82.62 158.38 L82.71 158.20 L82.81 158.02 L82.90 157.84 L82.99 157.66 L83.09 157.48 L83.19 157.30 L83.28 157.12 L83.38 156.94 L83.48 156.76 L83.58 156.58 L83.69 156.40 L83.79 156.22 L83.89 156.04 L84.00 155.86 L84.11 155.68 L84.21 155.50 L84.32 155.32 L84.43 155.14 L84.55 154.96 L84.66 154.78 L84.78 154.60 L84.89 154.42 L85.01 154.24 L85.13 154.05 L85.25 153.87 L85.37 153.69 L85.49 153.51 L85.62 153.33 L85.74 153.15 L85.87 152.97 L86.00 152.79 L86.13 152.61 L86.26 152.43 L86.39 152.25 L86.53 152.07 L86.67 151.89 L86.80 151.71 L86.94 151.53 L87.08 151.35 L87.23 151.17 L87.37 150.99 L87.52 150.81 L87.67 150.63 L87.81 150.45 L87.97 150.27 L88.12 150.09 L88.27 149.91 L88.43 149.72 L88.59 149.54 L88.75 149.36 L88.91 149.18 L89.08 149.00 L89.24 148.82 L89.41 148.64 L89.58 148.46 L89.75 148.28 L89.92 148.10 L90.10 147.92 L90.28 147.74 L90.46 147.56 L90.64 147.38 L90.82 147.20 L91.01 147.02 L91.20 146.84 L91.39 146.66 L91.58 146.48 L91.78 146.30 L91.97 146.12 L92.17 145.94 L92.37 145.76 L92.58 145.58 L92.78 145.39 L92.99 145.21 L93.20 145.03 L93.42 144.85 L93.63 144.67 L93.85 144.49 L94.07 144.31 L94.30 144.13 L94.52 143.95 L94.75 143.77 L94.98 143.59 L95.22 143.41 L95.46 143.23 L95.70 143.05 L95.94 142.87 L96.18 142.69 L96.43 142.51 L96.68 142.33 L96.94 142.15 L97.19 141.97 L97.45 141.79 L97.72 141.61 L97.98 141.43 L98.25 141.25 L98.52 141.06 L98.80 140.88 L99.08 140.70 L99.36 140.52 L99.64 140.34 L99.93 140.16 L100.22 139.98 L100.52 139.80 L100.82 139.62 L101.12 139.44 L101.42 139.26 L101.73 139.08 L102.05 138.90 L102.36 138.72 L102.68 138.54 L103.01 138.36 L103.33 138.18 L103.66 138.00 L104.00 137.82 L104.34 137.64 L104.68 137.46 L105.03 137.28 L105.38 137.10 L105.73 136.92 L106.09 136.73 L106.45 136.55 L106.82 136.37 L107.19 136.19 L107.57 136.01 L107.95 135.83 L108.33 135.65 L108.72 135.47 L109.11 135.29 L109.51 135.11 L109.91 134.93 L110.32 134.75 L110.73 134.57 L111.15 134.39 L111.57 134.21 L112.00 134.03 L112.43 133.85 L112.87 133.67 L113.31 133.49 L113.75 133.31 L114.20 133.13 L114.66 132.95 L115.12 132.77 L115.59 132.59 L116.06 132.40 L116.54 132.22 L117.03 132.04 L117.52 131.86 L118.01 131.68 L118.51 131.50 L119.02 131.32 L119.53 131.14 L120.05 130.96 L120.57 130.78 L121.11 130.60 L121.64 130.42 L122.18 130.24 L122.73 130.06 L123.29 129.88 L123.85 129.70 L124.42 129.52 L125.00 129.34 L125.58 129.16 L126.17 128.98 L126.76 128.80 L127.36 128.62 L127.97 128.44 L128.59 128.26 L129.21 128.07 L129.84 127.89 L130.48 127.71 L131.13 127.53 L131.78 127.35 L132.44 127.17 L133.11 126.99 L133.78 126.81 L134.47 126.63 L135.16 126.45 L135.86 126.27 L136.57 126.09 L137.28 125.91 L138.01 125.73 L138.74 125.55 L139.48 125.37 L140.23 125.19 L140.99 125.01 L141.75 124.83 L142.53 124.65 L143.31 124.47 L144.11 124.29 L144.91 124.11 L145.72 123.93 L146.55 123.74 L147.38 123.56 L148.22 123.38 L149.07 123.20 L149.93 123.02 L150.80 122.84 L151.68 122.66 L152.57 122.48 L153.47 122.30 L154.38 122.12 L155.31 121.94 L156.24 121.76 L157.18 121.58 L158.14 121.40 L159.10 121.22 L160.08 121.04 L161.07 120.86 L162.07 120.68 L163.08 120.50 L164.10 120.32 L165.14 120.14 L166.18 119.96 L167.24 119.78 L168.31 119.60 L169.40 119.41 L170.49 119.23 L171.60 119.05 L172.72 118.87 L173.86 118.69 L175.00 118.51 L176.16 118.33 L177.34 118.15 L178.53 117.97 L179.73 117.79 L180.94 117.61 L182.17 117.43 L183.42 117.25 L184.68 117.07 L185.95 116.89 L187.24 116.71 L188.54 116.53 L189.86 116.35 L191.19 116.17 L192.54 115.99 L193.90 115.81 L195.28 115.63 L196.68 115.45 L198.09 115.27 L199.52 115.08 L200.96 114.90 L202.42 114.72 L203.90 114.54 L205.40 114.36 L206.91 114.18 L208.44 114.00 L209.99 113.82 L211.55 113.64 L213.14 113.46 L214.74 113.28 L216.36 113.10 L218.00 112.92 L219.66 112.74 L221.34 112.56 L223.04 112.38 L224.75 112.20 L226.49 112.02 L228.25 111.84 L230.02 111.66 L231.82 111.48 L233.64 111.30 L235.48 111.12 L237.34 110.94 L239.22 110.75 L241.13 110.57 L243.06 110.39 L245.00 110.21 L246.98 110.03 L248.97 109.85 L250.99 109.67 L253.03 109.49 L255.09 109.31 L257.18 109.13 L259.29 108.95 L261.43 108.77 L263.59 108.59 L265.78 108.41 L267.99 108.23 L270.23 108.05 L272.49 107.87 L274.78 107.69 L277.10 107.51 L279.44 107.33 L281.81 107.15 L284.21 106.97 L286.63 106.79 L289.09 106.61 L291.57 106.42 L294.08 106.24 L296.62 106.06 L299.19 105.88 L301.79 105.70 L304.42 105.52 L307.08 105.34 L309.77 105.16 L312.49 104.98 L315.24 104.80 L318.03 104.62 L320.84 104.44 L323.69 104.26 L326.57 104.08 L329.49 103.90 L332.44 103.72 L335.42 103.54 L338.44 103.36 L341.50 103.18 L344.58 103.00 L347.71 102.82 L350.87 102.64 L354.07 102.46 L357.30 102.28 L360.57 102.09 L363.88 101.91 L367.23 101.73 L370.62 101.55 L374.04 101.37 L377.51 101.19 L381.02 101.01 L384.56 100.83 L388.15 100.65 L391.78 100.47 L395.45 100.29 L399.16 100.11 L402.92 99.93 L406.72 99.75 L410.56 99.57 L414.45 99.39 L418.39 99.21 L422.36 99.03 L426.39 98.85 L430.46 98.67 L434.58 98.49 L438.75 98.31 L442.96 98.13 L447.23 97.95 L451.54 97.76 L455.90 97.58 L460.32 97.40 L464.78 97.22 L469.30 97.04 L473.87 96.86 L478.49 96.68 L483.16 96.50 L487.89 96.32 L492.67 96.14 L497.51 95.96 L502.41 95.78 L507.36 95.60 L512.37 95.42 L517.44 95.24 L522.56 95.06 L527.75 94.88"/><path d="M79.28 340.45 L79.28 308.58 L79.33 308.40 L79.39 308.22 L79.44 308.04 L79.49 307.86 L79.55 307.68 L79.60 307.50 L79.66 307.32 L79.72 307.14 L79.77 306.96 L79.83 306.78 L79.89 306.60 L79.95 306.42 L80.01 306.24 L80.07 306.06 L80.13 305.88 L80.20 305.70 L80.26 305.52 L80.32 305.34 L80.39 305.15 L80.45 304.97 L80.52 304.79 L80.59 304.61 L80.65 304.43 L80.72 304.25 L80.79 304.07 L80.86 303.89 L80.93 303.71 L81.00 303.53 L81.08 303.35 L81.15 303.17 L81.22 302.99 L81.30 302.81 L81.37 302.63 L81.45 302.45 L81.53 302.27 L81.61 302.09 L81.69 301.91 L81.77 301.73 L81.85 301.55 L81.93 301.37 L82.01 301.19 L82.10 301.01 L82.18 300.82 L82.27 300.64 L82.35 300.46 L82.44 300.28 L82.53 300.10 L82.62 299.92 L82.71 299.74 L82.81 299.56 L82.90 299.38 L82.99 299.20 L83.09 299.02 L83.19 298.84 L83.28 298.66 L83.38 298.48 L83.48 298.30 L83.58 298.12 L83.69 297.94 L83.79 297.76 L83.89 297.58 L84.00 297.40 L84.11 297.22 L84.21 297.04 L84.32 296.86 L84.43 296.68 L84.55 296.49 L84.66 296.31 L84.78 296.13 L84.89 295.95 L85.01 295.77 L85.13 295.59 L85.25 295.41 L85.37 295.23 L85.49 295.05 L85.62 294.87 L85.74 294.69 L85.87 294.51 L86.00 294.33 L86.13 294.15 L86.26 293.97 L86.39 293.79 L86.53 293.61 L86.67 293.43 L86.80 293.25 L86.94 293.07 L87.08 292.89 L87.23 292.71 L87.37 292.53 L87.52 292.35 L87.67 292.16 L87.81 291.98 L87.97 291.80 L88.12 291.62 L88.27 291.44 L88.43 291.26 L88.59 291.08 L88.75 290.90 L88.91 290.72 L89.08 290.54 L89.24 290.36 L89.41 290.18 L89.58 290.00 L89.75 289.82 L89.92 289.64 L90.10 289.46 L90.28 289.28 L90.46 289.10 L90.64 288.92 L90.82 288.74 L91.01 288.56 L91.20 288.38 L91.39 288.20 L91.58 288.02 L91.78 287.83 L91.97 287.65 L92.17 287.47 L92.37 287.29 L92.58 287.11 L92.78 286.93 L92.99 286.75 L93.20 286.57 L93.42 286.39 L93.63 286.21 L93.85 286.03 L94.07 285.85 L94.30 285.67 L94.52 285.49 L94.75 285.31 L94.98 285.13 L95.22 284.95 L95.46 284.77 L95.70 284.59 L95.94 284.41 L96.18 284.23 L96.43 284.05 L96.68 283.87 L96.94 283.69 L97.19 283.50 L97.45 283.32 L97.72 283.14 L97.98 282.96 L98.25 282.78 L98.52 282.60 L98.80 282.42 L99.08 282.24 L99.36 282.06 L99.64 281.88 L99.93 281.70 L100.22 281.52 L100.52 281.34 L100.82 281.16 L101.12 280.98 L101.42 280.80 L101.73 280.62 L102.05 280.44 L102.36 280.26 L102.68 280.08 L103.01 279.90 L103.33 279.72 L103.66 279.54 L104.00 279.36 L104.34 279.17 L104.68 278.99 L105.03 278.81 L105.38 278.63 L105.73 278.45 L106.09 278.27 L106.45 278.09 L106.82 277.91 L107.19 277.73 L107.57 277.55 L107.95 277.37 L108.33 277.19 L108.72 277.01 L109.11 276.83 L109.51 276.65 L109.91 276.47 L110.32 276.29 L110.73 276.11 L111.15 275.93 L111.57 275.75 L112.00 275.57 L112.43 275.39 L112.87 275.21 L113.31 275.03 L113.75 274.84 L114.20 274.66 L114.66 274.48 L115.12 274.30 L115.59 274.12 L116.06 273.94 L116.54 273.76 L117.03 273.58 L117.52 273.40 L118.01 273.22 L118.51 273.04 L119.02 272.86 L119.53 272.68 L120.05 272.50 L120.57 272.32 L121.11 272.14 L121.64 271.96 L122.18 271.78 L122.73 271.60 L123.29 271.42 L123.85 271.24 L124.42 271.06 L125.00 270.88 L125.58 270.70 L126.17 270.51 L126.76 270.33 L127.36 270.15 L127.97 269.97 L128.59 269.79 L129.21 269.61 L129.84 269.43 L130.48 269.25 L131.13 269.07 L131.78 268.89 L132.44 268.71 L133.11 268.53 L133.78 268.35 L134.47 268.17 L135.16 267.99 L135.86 267.81 L136.57 267.63 L137.28 267.45 L138.01 267.27 L138.74 267.09 L139.48 266.91 L140.23 266.73 L140.99 266.55 L141.75 266.37 L142.53 266.18 L143.31 266.00 L144.11 265.82 L144.91 265.64 L145.72 265.46 L146.55 265.28 L147.38 265.10 L148.22 264.92 L149.07 264.74 L149.93 264.56 L150.80 264.38 L151.68 264.20 L152.57 264.02 L153.47 263.84 L154.38 263.66 L155.31 263.48 L156.24 263.30 L157.18 263.12 L158.14 262.94 L159.10 262.76 L160.08 262.58 L161.07 262.40 L162.07 262.22 L163.08 262.04 L164.10 261.85 L165.14 261.67 L166.18 261.49 L167.24 261.31 L168.31 261.13 L169.40 260.95 L170.49 260.77 L171.60 260.59 L172.72 260.41 L173.86 260.23 L175.00 260.05 L176.16 259.87 L177.34 259.69 L178.53 259.51 L179.73 259.33 L180.94 259.15 L182.17 258.97 L183.42 258.79 L184.68 258.61 L185.95 258.43 L187.24 258.25 L188.54 258.07 L189.86 257.89 L191.19 257.71 L192.54 257.52 L193.90 257.34 L195.28 257.16 L196.68 256.98 L198.09 256.80 L199.52 256.62 L200.96 256.44 L202.42 256.26 L203.90 256.08 L205.40 255.90 L206.91 255.72 L208.44 255.54 L209.99 255.36 L211.55 255.18 L213.14 255.00 L214.74 254.82 L216.36 254.64 L218.00 254.46 L219.66 254.28 L221.34 254.10 L223.04 253.92 L224.75 253.74 L226.49 253.56 L228.25 253.38 L230.02 253.19 L231.82 253.01 L233.64 252.83 L235.48 252.65 L237.34 252.47 L239.22 252.29 L241.13 252.11 L243.06 251.93 L245.00 251.75 L246.98 251.57 L248.97 251.39 L250.99 251.21 L253.03 251.03 L255.09 250.85 L257.18 250.67 L259.29 250.49 L261.43 250.31 L263.59 250.13 L265.78 249.95 L267.99 249.77 L270.23 249.59 L272.49 249.41 L274.78 249.23 L277.10 249.05 L279.44 248.86 L281.81 248.68 L284.21 248.50 L286.63 248.32 L289.09 248.14 L291.57 247.96 L294.08 247.78 L296.62 247.60 L299.19 247.42 L301.79 247.24 L304.42 247.06 L307.08 246.88 L309.77 246.70 L312.49 246.52 L315.24 246.34 L318.03 246.16 L320.84 245.98 L323.69 245.80 L326.57 245.62 L329.49 245.44 L332.44 245.26 L335.42 245.08 L338.44 244.90 L341.50 244.72 L344.58 244.53 L347.71 244.35 L350.87 244.17 L354.07 243.99 L357.30 243.81 L360.57 243.63 L363.88 243.45 L367.23 243.27 L370.62 243.09 L374.04 242.91 L377.51 242.73 L381.02 242.55 L384.56 242.37 L388.15 242.19 L391.78 242.01 L395.45 241.83 L399.16 241.65 L402.92 241.47 L406.72 241.29 L410.56 241.11 L414.45 240.93 L418.39 240.75 L422.36 240.57 L426.39 240.39 L430.46 240.20 L434.58 240.02 L438.75 239.84 L442.96 239.66 L447.23 239.48 L451.54 239.30 L455.90 239.12 L460.32 238.94 L464.78 238.76 L469.30 238.58 L473.87 238.40 L478.49 238.22 L483.16 238.04 L487.89 237.86 L492.67 237.68 L497.51 237.50 L502.41 237.32 L507.36 237.14 L512.37 236.96 L517.44 236.78 L522.56 236.60 L527.75 236.42"/><path d="M79.28 340.45 L79.28 311.38 L79.33 311.20 L79.39 311.02 L79.44 310.84 L79.49 310.66 L79.55 310.48 L79.60 310.30 L79.66 310.12 L79.72 309.93 L79.77 309.75 L79.83 309.57 L79.89 309.39 L79.95 309.21 L80.01 309.03 L80.07 308.85 L80.13 308.67 L80.20 308.49 L80.26 308.31 L80.32 308.13 L80.39 307.95 L80.45 307.77 L80.52 307.59 L80.59 307.41 L80.65 307.23 L80.72 307.05 L80.79 306.87 L80.86 306.69 L80.93 306.51 L81.00 306.33 L81.08 306.15 L81.15 305.97 L81.22 305.79 L81.30 305.60 L81.37 305.42 L81.45 305.24 L81.53 305.06 L81.61 304.88 L81.69 304.70 L81.77 304.52 L81.85 304.34 L81.93 304.16 L82.01 303.98 L82.10 303.80 L82.18 303.62 L82.27 303.44 L82.35 303.26 L82.44 303.08 L82.53 302.90 L82.62 302.72 L82.71 302.54 L82.81 302.36 L82.90 302.18 L82.99 302.00 L83.09 301.82 L83.19 301.64 L83.28 301.46 L83.38 301.27 L83.48 301.09 L83.58 300.91 L83.69 300.73 L83.79 300.55 L83.89 300.37 L84.00 300.19 L84.11 300.01 L84.21 299.83 L84.32 299.65 L84.43 299.47 L84.55 299.29 L84.66 299.11 L84.78 298.93 L84.89 298.75 L85.01 298.57 L85.13 298.39 L85.25 298.21 L85.37 298.03 L85.49 297.85 L85.62 297.67 L85.74 297.49 L85.87 297.31 L86.00 297.13 L86.13 296.94 L86.26 296.76 L86.39 296.58 L86.53 296.40 L86.67 296.22 L86.80 296.04 L86.94 295.86 L87.08 295.68 L87.23 295.50 L87.37 295.32 L87.52 295.14 L87.67 294.96 L87.81 294.78 L87.97 294.60 L88.12 294.42 L88.27 294.24 L88.43 294.06 L88.59 293.88 L88.75 293.70 L88.91 293.52 L89.08 293.34 L89.24 293.16 L89.41 292.98 L89.58 292.80 L89.75 292.61 L89.92 292.43 L90.10 292.25 L90.28 292.07 L90.46 291.89 L90.64 291.71 L90.82 291.53 L91.01 291.35 L91.20 291.17 L91.39 290.99 L91.58 290.81 L91.78 290.63 L91.97 290.45 L92.17 290.27 L92.37 290.09 L92.58 289.91 L92.78 289.73 L92.99 289.55 L93.20 289.37 L93.42 289.19 L93.63 289.01 L93.85 288.83 L94.07 288.65 L94.30 288.47 L94.52 288.28 L94.75 288.10 L94.98 287.92 L95.22 287.74 L95.46 287.56 L95.70 287.38 L95.94 287.20 L96.18 287.02 L96.43 286.84 L96.68 286.66 L96.94 286.48 L97.19 286.30 L97.45 286.12 L97.72 285.94 L97.98 285.76 L98.25 285.58 L98.52 285.40 L98.80 285.22 L99.08 285.04 L99.36 284.86 L99.64 284.68 L99.93 284.50 L100.22 284.32 L100.52 284.14 L100.82 283.95 L101.12 283.77 L101.42 283.59 L101.73 283.41 L102.05 283.23 L102.36 283.05 L102.68 282.87 L103.01 282.69 L103.33 282.51 L103.66 282.33 L104.00 282.15 L104.34 281.97 L104.68 281.79 L105.03 281.61 L105.38 281.43 L105.73 281.25 L106.09 281.07 L106.45 280.89 L106.82 280.71 L107.19 280.53 L107.57 280.35 L107.95 280.17 L108.33 279.99 L108.72 279.81 L109.11 279.62 L109.51 279.44 L109.91 279.26 L110.32 279.08 L110.73 278.90 L111.15 278.72 L111.57 278.54 L112.00 278.36 L112.43 278.18 L112.87 278.00 L113.31 277.82 L113.75 277.64 L114.20 277.46 L114.66 277.28 L115.12 277.10 L115.59 276.92 L116.06 276.74 L116.54 276.56 L117.03 276.38 L117.52 276.20 L118.01 276.02 L118.51 275.84 L119.02 275.66 L119.53 275.48 L120.05 275.29 L120.57 275.11 L121.11 274.93 L121.64 274.75 L122.18 274.57 L122.73 274.39 L123.29 274.21 L123.85 274.03 L124.42 273.85 L125.00 273.67 L125.58 273.49 L126.17 273.31 L126.76 273.13 L127.36 272.95 L127.97 272.77 L128.59 272.59 L129.21 272.41 L129.84 272.23 L130.48 272.05 L131.13 271.87 L131.78 271.69 L132.44 271.51 L133.11 271.33 L133.78 271.15 L134.47 270.96 L135.16 270.78 L135.86 270.60 L136.57 270.42 L137.28 270.24 L138.01 270.06 L138.74 269.88 L139.48 269.70 L140.23 269.52 L140.99 269.34 L141.75 269.16 L142.53 268.98 L143.31 268.80 L144.11 268.62 L144.91 268.44 L145.72 268.26 L146.55 268.08 L147.38 267.90 L148.22 267.72 L149.07 267.54 L149.93 267.36 L150.80 267.18 L151.68 267.00 L152.57 266.82 L153.47 266.63 L154.38 266.45 L155.31 266.27 L156.24 266.09 L157.18 265.91 L158.14 265.73 L159.10 265.55 L160.08 265.37 L161.07 265.19 L162.07 265.01 L163.08 264.83 L164.10 264.65 L165.14 264.47 L166.18 264.29 L167.24 264.11 L168.31 263.93 L169.40 263.75 L170.49 263.57 L171.60 263.39 L172.72 263.21 L173.86 263.03 L175.00 262.85 L176.16 262.67 L177.34 262.49 L178.53 262.30 L179.73 262.12 L180.94 261.94 L182.17 261.76 L183.42 261.58 L184.68 261.40 L185.95 261.22 L187.24 261.04 L188.54 260.86 L189.86 260.68 L191.19 260.50 L192.54 260.32 L193.90 260.14 L195.28 259.96 L196.68 259.78 L198.09 259.60 L199.52 259.42 L200.96 259.24 L202.42 259.06 L203.90 258.88 L205.40 258.70 L206.91 258.52 L208.44 258.34 L209.99 258.16 L211.55 257.97 L213.14 257.79 L214.74 257.61 L216.36 257.43 L218.00 257.25 L219.66 257.07 L221.34 256.89 L223.04 256.71 L224.75 256.53 L226.49 256.35 L228.25 256.17 L230.02 255.99 L231.82 255.81 L233.64 255.63 L235.48 255.45 L237.34 255.27 L239.22 255.09 L241.13 254.91 L243.06 254.73 L245.00 254.55 L246.98 254.37 L248.97 254.19 L250.99 254.01 L253.03 253.83 L255.09 253.64 L257.18 253.46 L259.29 253.28 L261.43 253.10 L263.59 252.92 L265.78 252.74 L267.99 252.56 L270.23 252.38 L272.49 252.20 L274.78 252.02 L277.10 251.84 L279.44 251.66 L281.81 251.48 L284.21 251.30 L286.63 251.12 L289.09 250.94 L291.57 250.76 L294.08 250.58 L296.62 250.40 L299.19 250.22 L301.79 250.04 L304.42 249.86 L307.08 249.68 L309.77 249.50 L312.49 249.31 L315.24 249.13 L318.03 248.95 L320.84 248.77 L323.69 248.59 L326.57 248.41 L329.49 248.23 L332.44 248.05 L335.42 247.87 L338.44 247.69 L341.50 247.51 L344.58 247.33 L347.71 247.15 L350.87 246.97 L354.07 246.79 L357.30 246.61 L360.57 246.43 L363.88 246.25 L367.23 246.07 L370.62 245.89 L374.04 245.71 L377.51 245.53 L381.02 245.35 L384.56 245.17 L388.15 244.98 L391.78 244.80 L395.45 244.62 L399.16 244.44 L402.92 244.26 L406.72 244.08 L410.56 243.90 L414.45 243.72 L418.39 243.54 L422.36 243.36 L426.39 243.18 L430.46 243.00 L434.58 242.82 L438.75 242.64 L442.96 242.46 L447.23 242.28 L451.54 242.10 L455.90 241.92 L460.32 241.74 L464.78 241.56 L469.30 241.38 L473.87 241.20 L478.49 241.02 L483.16 240.84 L487.89 240.65 L492.67 240.47 L497.51 240.29 L502.41 240.11 L507.36 239.93 L512.37 239.75 L517.44 239.57 L522.56 239.39 L527.75 239.21"/></g>
</g>
<rect x="74.75" y="15.7" width="453.0" height="324.75" fill="none" stroke="#000" stroke-width="1.5"/>
<g class="t"><text transform="translate(76.35,358.4) scale(1.08,1)" text-anchor="middle">0</text><text transform="translate(136.75,358.4) scale(1.08,1)" text-anchor="middle">0.02</text><text transform="translate(197.15,358.4) scale(1.08,1)" text-anchor="middle">0.04</text><text transform="translate(257.55,358.4) scale(1.08,1)" text-anchor="middle">0.06</text><text transform="translate(317.95,358.4) scale(1.08,1)" text-anchor="middle">0.08</text><text transform="translate(378.35,358.4) scale(1.08,1)" text-anchor="middle">0.1</text><text transform="translate(438.75,358.4) scale(1.08,1)" text-anchor="middle">0.12</text><text transform="translate(499.15,358.4) scale(1.08,1)" text-anchor="middle">0.14</text><text transform="translate(66.4,345.05) scale(1.08,1)" text-anchor="end">1</text><text transform="translate(66.4,236.80) scale(1.08,1)" text-anchor="end">10</text><text transform="translate(66.4,128.55) scale(1.08,1)" text-anchor="end">100</text><text transform="translate(66.4,20.30) scale(1.08,1)" text-anchor="end">1000</text>
<text transform="translate(153.3,293.1) scale(1.06,1)" text-anchor="end" style="letter-spacing:-0.7px">1-σ</text>
<text transform="translate(213.3,138.5) scale(1.06,1)" text-anchor="end" style="letter-spacing:-0.7px">2-σ</text>
<text transform="translate(243.6,57.7) scale(1.06,1)" text-anchor="end" style="letter-spacing:-0.7px">3-σ</text>
<text x="296.5" y="376.4" style="font-size:13.3px;letter-spacing:0.3px">f<tspan dy="4.4" style="font-size:10.6px">s</tspan></text>
<text transform="translate(16.0,216.8) rotate(-90)" style="font-size:14px;letter-spacing:1.1px;stroke-width:0.2px">&lt;v<tspan dy="3.6" style="font-size:11px">s</tspan><tspan dy="-3.6">&gt;</tspan></text>
<text transform="translate(16.0,180.3) rotate(-90) scale(1.095,1)" style="font-size:14px;letter-spacing:0.05px;stroke-width:0.2px">(km/s)</text>
</g>
</svg>
</body></html>
